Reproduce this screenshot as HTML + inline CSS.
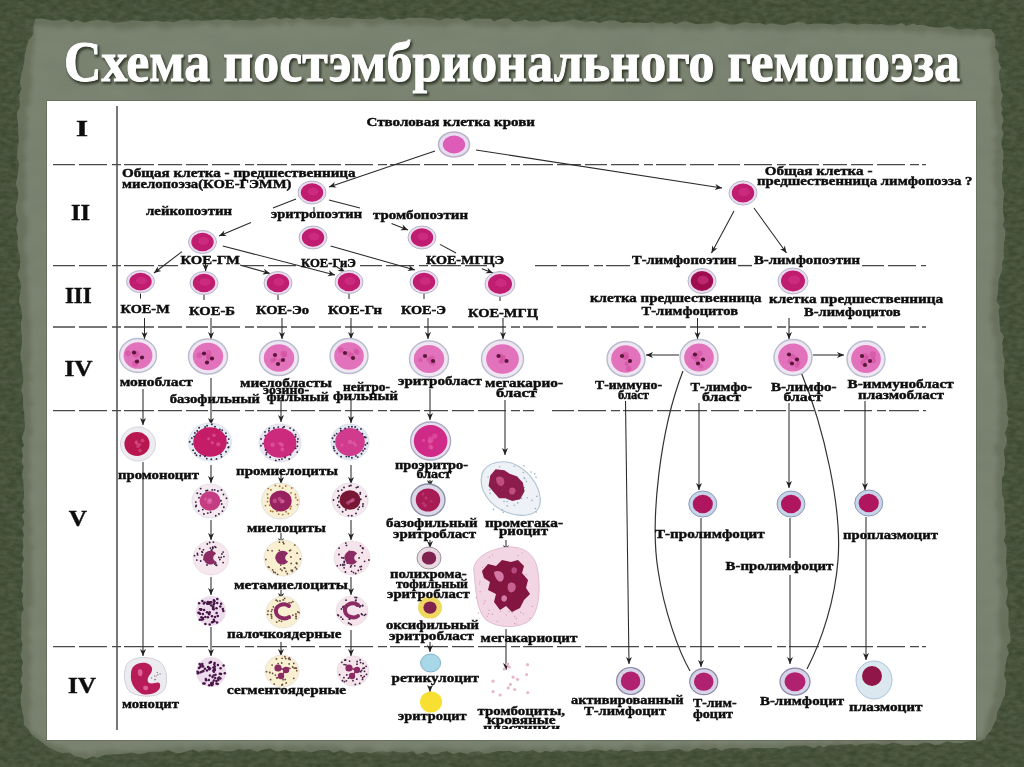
<!DOCTYPE html><html><head><meta charset="utf-8"><style>html,body{margin:0;padding:0;width:1024px;height:767px;overflow:hidden;background:#4f5a44}svg{display:block}</style></head><body>
<svg width="1024" height="767" viewBox="0 0 1024 767">
<defs>
<filter id="tex" x="0" y="0" width="100%" height="100%" color-interpolation-filters="sRGB"><feTurbulence type="fractalNoise" baseFrequency="0.12 0.25" numOctaves="3" seed="3"/><feColorMatrix values="0 0 0 0 0.2  0 0 0 0 0.25  0 0 0 0 0.15  0 0 0 1.2 -0.3"/><feComposite in2="SourceGraphic" operator="in"/></filter>
<filter id="sh" x="-5%" y="-20%" width="110%" height="140%"><feGaussianBlur stdDeviation="1.3"/></filter>
<filter id="bl"><feGaussianBlur stdDeviation="0.35"/></filter>
<filter id="tex2" x="0" y="0" width="100%" height="100%" color-interpolation-filters="sRGB"><feTurbulence type="fractalNoise" baseFrequency="0.02 0.05" numOctaves="3" seed="9"/><feColorMatrix values="0 0 0 0 0.3  0 0 0 0 0.34  0 0 0 0 0.28  0 0 0 0.16 -0.02"/><feComposite in2="SourceGraphic" operator="in"/></filter>
<filter id="bl3"><feGaussianBlur stdDeviation="2"/></filter>
<filter id="bl2"><feGaussianBlur stdDeviation="0.6"/></filter>
<clipPath id="clipb"><rect x="0" y="0" width="1024" height="729"/></clipPath>
</defs>
<rect width="1024" height="767" fill="#505b45"/>
<rect width="1024" height="767" fill="#000" filter="url(#tex)"/>
<path d="M35.4,18.7 L42.5,18.6 L48.1,19.8 L52.4,20.5 L58.3,20.3 L64.5,19.2 L71.7,22.0 L76.6,20.0 L84.5,22.8 L90.3,20.9 L97.7,19.8 L103.3,20.8 L106.7,20.3 L113.3,23.0 L118.9,22.3 L126.5,21.4 L132.2,20.2 L136.4,20.5 L144.6,21.2 L149.3,21.6 L155.8,20.5 L163.1,21.8 L167.1,21.2 L174.1,22.2 L180.8,19.9 L187.7,19.2 L191.7,21.3 L196.7,20.2 L202.3,20.7 L211.0,20.3 L217.4,19.2 L222.7,20.1 L228.3,19.4 L235.2,21.1 L239.9,19.9 L244.4,19.9 L252.5,20.8 L259.2,18.2 L263.6,19.4 L268.3,18.5 L274.8,17.2 L280.4,19.4 L286.7,17.4 L293.6,19.5 L298.5,17.8 L306.3,19.4 L313.4,19.4 L317.5,17.9 L323.9,19.6 L332.2,17.0 L335.5,17.4 L341.8,18.3 L349.2,17.6 L353.2,18.2 L360.6,18.8 L368.9,19.3 L373.4,19.1 L380.1,17.1 L387.0,19.8 L393.0,19.9 L397.4,18.5 L402.5,19.4 L408.4,17.4 L415.1,17.8 L421.6,17.5 L426.5,17.9 L433.0,18.7 L438.8,20.6 L447.1,18.1 L451.9,18.8 L458.4,18.1 L466.3,21.3 L471.0,19.5 L475.7,18.2 L482.8,18.8 L490.6,18.5 L493.8,21.4 L501.8,18.6 L507.9,18.2 L514.0,21.7 L521.3,20.7 L525.1,19.6 L530.8,21.2 L538.1,21.3 L543.4,19.4 L551.1,22.2 L557.3,21.7 L563.1,21.6 L567.0,20.9 L573.5,19.2 L578.3,20.2 L585.1,21.8 L593.6,21.0 L599.6,23.1 L605.6,20.9 L609.0,20.5 L614.9,20.5 L622.4,23.1 L629.2,21.7 L634.6,23.0 L638.5,22.6 L647.5,23.1 L652.9,22.1 L656.8,23.3 L663.4,23.5 L671.7,22.1 L675.6,24.2 L682.8,21.5 L686.7,21.5 L695.5,24.0 L698.7,24.2 L707.8,23.6 L711.6,23.2 L716.9,21.3 L725.9,23.7 L730.4,24.7 L736.1,24.5 L743.6,22.2 L747.6,22.5 L753.6,23.6 L759.7,23.0 L765.3,24.8 L772.2,23.2 L779.1,24.8 L784.6,24.9 L790.9,23.6 L797.1,21.8 L802.8,22.4 L807.3,24.6 L814.0,23.5 L822.0,23.8 L826.6,23.7 L833.5,24.7 L838.0,23.9 L844.5,22.9 L852.5,23.8 L857.8,24.7 L865.1,23.6 L870.1,23.9 L875.8,24.6 L881.6,24.0 L887.8,25.5 L894.7,25.3 L901.6,23.1 L906.3,26.0 L913.5,23.5 L917.0,25.0 L923.0,24.7 L929.1,26.6 L937.8,27.8 L941.7,27.6 L949.6,25.9 L956.6,29.3 L960.3,29.6 L967.1,28.4 L975.4,30.0 L978.5,29.0 L985.9,29.0 L990.9,29.3 L994.4,34.3 L995.4,41.8 L995.1,47.4 L998.8,54.0 L998.4,61.7 L1001.3,67.7 L999.2,71.2 L999.2,79.0 L1000.4,82.7 L1001.2,91.5 L1002.9,95.1 L1000.8,103.5 L1002.7,108.7 L1001.2,112.4 L1003.7,119.7 L1001.5,127.8 L1003.6,133.5 L1001.6,139.9 L1001.6,146.1 L1003.1,150.4 L1003.5,158.7 L1002.5,162.0 L1003.5,168.6 L1002.0,174.5 L1001.9,180.8 L1002.8,187.4 L1004.5,193.5 L1003.6,199.3 L1003.1,204.9 L1002.8,211.1 L1004.6,219.2 L1002.7,225.1 L1005.4,230.0 L1005.1,237.4 L1003.9,245.0 L1003.6,250.0 L1003.9,258.0 L1001.9,263.7 L1002.5,269.2 L1000.7,274.5 L998.6,279.9 L998.0,288.4 L997.9,292.5 L996.5,301.2 L1000.0,306.6 L998.6,311.1 L999.4,317.9 L999.6,323.8 L1000.6,331.7 L1003.9,336.2 L1002.0,343.7 L1002.9,347.5 L1002.5,353.6 L1004.9,360.0 L1004.1,366.0 L1003.6,371.2 L1004.1,377.6 L1004.2,382.3 L1005.3,389.0 L1006.5,396.1 L1007.3,402.6 L1007.4,409.4 L1006.4,413.4 L1008.7,418.7 L1007.4,426.5 L1004.6,433.2 L1007.2,438.5 L1006.2,445.1 L1003.7,450.1 L1004.6,457.2 L1005.3,463.2 L1004.1,469.4 L1004.1,474.7 L1002.0,478.3 L1001.9,485.7 L1002.0,493.5 L1003.9,498.9 L1004.4,505.3 L1004.1,509.0 L1005.5,517.8 L1004.6,523.2 L1005.4,527.7 L1005.9,534.5 L1003.8,540.7 L1006.4,546.6 L1006.6,555.6 L1006.0,559.6 L1006.2,566.8 L1007.4,572.7 L1007.2,576.9 L1005.7,583.7 L1008.0,590.1 L1007.6,595.2 L1006.0,602.2 L1008.5,609.9 L1008.7,614.6 L1008.4,621.4 L1008.4,626.3 L1010.2,632.8 L1010.7,641.6 L1006.7,645.9 L1009.0,653.7 L1007.0,657.2 L1005.6,665.6 L1005.0,670.3 L1004.1,676.1 L1006.4,680.7 L1005.4,688.0 L1005.0,694.7 L1002.0,701.4 L1001.0,704.5 L997.2,712.5 L996.8,718.0 L993.7,724.4 L990.7,731.2 L985.9,735.9 L985.2,738.6 L979.5,741.5 L973.4,740.7 L965.5,741.9 L961.8,743.3 L953.4,742.9 L947.0,741.6 L940.2,744.5 L934.8,745.0 L928.5,742.7 L923.4,742.6 L916.8,745.4 L912.5,745.0 L905.5,745.5 L900.5,744.3 L893.6,742.6 L887.5,744.2 L881.5,745.0 L873.7,742.9 L869.9,743.3 L862.1,744.2 L855.4,745.7 L851.7,744.1 L844.3,744.5 L837.7,745.1 L830.1,744.5 L823.9,747.5 L818.7,745.2 L814.0,748.3 L806.1,745.5 L798.9,745.5 L793.2,745.8 L786.6,746.6 L781.5,749.1 L775.9,747.7 L768.4,748.3 L762.1,747.9 L754.7,747.9 L751.7,747.7 L744.0,749.5 L739.3,748.1 L731.2,748.3 L725.6,749.1 L721.6,750.7 L715.3,747.8 L706.3,750.3 L703.4,749.5 L696.3,747.9 L689.6,751.3 L685.2,751.2 L679.7,749.1 L670.6,748.8 L666.1,750.8 L661.6,751.0 L654.5,751.2 L647.8,750.5 L640.3,751.5 L635.0,752.0 L630.5,749.9 L622.7,749.8 L618.5,751.5 L610.6,749.3 L606.1,751.2 L599.6,750.0 L594.3,749.3 L587.2,751.0 L583.5,751.7 L577.1,751.2 L568.7,750.4 L565.3,752.1 L556.9,749.7 L551.5,752.1 L545.2,750.7 L540.0,753.1 L532.3,750.0 L526.7,751.4 L521.9,750.7 L516.2,752.7 L509.1,750.8 L504.7,751.3 L498.1,751.1 L489.9,753.0 L484.1,753.8 L478.8,751.1 L471.7,752.0 L467.3,753.9 L459.3,752.0 L453.5,754.2 L447.2,750.9 L440.8,752.2 L437.8,754.0 L431.1,754.5 L425.8,752.1 L417.0,754.4 L413.0,751.2 L406.7,752.5 L399.5,752.4 L392.8,751.1 L387.2,752.2 L383.6,751.3 L377.7,751.5 L369.5,753.6 L365.2,752.0 L356.4,752.1 L351.5,753.6 L344.9,751.4 L341.4,750.1 L333.7,752.8 L329.0,749.9 L320.3,749.9 L317.5,750.4 L310.9,752.6 L303.4,750.3 L299.6,751.4 L291.1,751.6 L285.3,749.9 L278.2,751.5 L275.5,751.0 L269.6,748.6 L261.0,750.2 L257.6,751.8 L249.6,749.1 L243.5,750.1 L239.0,749.1 L232.3,751.2 L226.2,751.5 L219.1,750.0 L211.9,750.3 L207.3,749.4 L198.9,751.9 L192.8,749.6 L185.8,751.4 L180.6,753.1 L176.4,753.3 L167.9,750.1 L161.0,751.7 L157.0,751.7 L149.0,751.7 L144.1,753.2 L138.2,754.3 L131.5,752.3 L125.8,753.4 L118.4,754.3 L112.7,754.2 L104.5,754.9 L97.8,757.7 L93.0,756.3 L86.0,759.2 L80.0,757.0 L75.1,756.6 L69.8,752.6 L61.9,753.1 L57.2,751.5 L48.3,747.3 L42.0,742.5 L38.4,739.6 L31.5,734.5 L28.7,729.2 L23.8,724.7 L23.6,716.6 L22.3,712.3 L21.0,705.3 L20.7,698.6 L21.1,693.9 L22.5,686.3 L20.2,680.6 L22.6,674.0 L21.3,667.9 L23.1,663.0 L20.4,655.3 L21.6,650.8 L22.5,643.0 L20.8,639.1 L21.7,631.5 L21.3,627.8 L21.3,620.2 L21.6,613.5 L23.6,609.5 L22.0,600.4 L23.4,594.3 L21.0,590.7 L22.6,584.2 L22.7,578.3 L23.1,569.6 L21.6,564.8 L24.0,559.9 L22.2,552.7 L23.4,546.2 L22.7,539.2 L23.9,535.5 L22.2,528.0 L24.5,523.7 L22.1,514.7 L24.6,511.7 L22.7,502.4 L24.1,497.6 L23.9,492.4 L23.4,484.8 L23.0,479.0 L21.9,475.2 L23.6,466.9 L21.6,461.6 L22.9,455.6 L21.6,449.1 L24.0,445.4 L21.7,438.2 L24.5,430.3 L25.0,424.6 L24.4,420.2 L24.3,413.3 L23.3,408.3 L23.1,402.6 L23.0,395.8 L21.3,390.4 L22.8,383.0 L23.5,379.0 L22.2,370.8 L22.1,364.6 L20.7,359.8 L20.3,353.8 L21.6,346.3 L21.9,340.5 L22.0,337.0 L21.0,328.4 L20.8,323.6 L22.2,316.7 L21.7,313.8 L21.0,307.1 L18.9,301.7 L19.8,295.4 L21.1,286.3 L20.5,282.8 L17.7,274.5 L20.0,267.5 L20.3,261.7 L19.8,255.0 L18.5,251.5 L17.3,242.9 L18.1,236.8 L16.3,230.1 L16.5,226.6 L18.2,220.2 L16.2,213.5 L15.8,206.4 L17.5,199.5 L18.4,194.0 L17.4,189.1 L15.8,183.3 L17.8,175.0 L18.5,168.4 L19.2,163.4 L17.0,157.9 L17.4,149.6 L18.6,143.0 L18.9,137.6 L18.3,134.1 L18.2,126.7 L17.3,118.2 L16.9,112.7 L19.6,107.8 L19.8,103.4 L19.1,95.0 L21.6,88.3 L19.8,83.5 L20.8,77.5 L21.8,72.3 L23.7,64.9 L24.4,59.9 L24.7,54.9 L27.1,45.4 L28.5,40.5 L33.3,34.3 L33.6,25.8 Z" fill="#6b735f"/>
<path d="M33.6,26.7 L42.3,25.4 L48.7,26.0 L56.2,27.6 L58.7,28.6 L63.7,26.9 L71.5,25.5 L75.8,28.4 L81.6,27.4 L92.2,25.5 L94.5,28.0 L102.0,28.3 L109.6,26.1 L113.0,26.9 L117.7,29.9 L127.4,28.9 L129.5,29.5 L139.2,27.4 L145.2,27.2 L148.6,25.4 L154.7,24.9 L161.2,28.3 L169.0,28.7 L175.1,25.6 L180.3,26.3 L187.4,26.6 L190.8,27.1 L200.3,24.9 L205.9,23.7 L208.8,24.7 L217.2,28.1 L223.2,24.9 L229.9,24.7 L232.7,27.5 L240.7,26.3 L246.8,27.6 L251.8,26.8 L259.0,26.7 L263.7,25.9 L270.4,23.7 L274.6,25.1 L279.9,26.5 L286.2,21.9 L292.0,26.3 L299.2,22.2 L303.8,21.8 L313.2,24.8 L319.3,25.4 L322.3,24.7 L329.9,25.9 L338.3,26.3 L340.6,26.2 L351.0,26.7 L353.0,23.0 L359.2,22.2 L369.0,26.2 L374.0,26.3 L380.1,23.7 L383.6,22.8 L393.0,23.4 L396.9,24.5 L401.5,23.7 L408.9,26.1 L415.5,24.2 L424.5,25.1 L430.1,25.8 L432.1,24.8 L440.2,26.6 L445.9,26.4 L453.0,24.0 L460.7,23.4 L466.6,23.9 L468.6,24.1 L478.5,28.0 L480.9,25.6 L489.4,27.2 L494.0,25.8 L500.9,27.5 L506.6,28.1 L512.8,24.5 L521.0,26.0 L524.0,26.8 L529.9,27.6 L539.0,27.7 L544.6,25.7 L549.5,26.0 L558.0,24.5 L563.9,24.3 L566.5,25.6 L576.0,26.9 L579.4,28.9 L584.7,26.9 L592.2,28.5 L599.3,28.0 L603.2,26.5 L608.3,29.2 L616.8,28.8 L620.3,27.4 L629.4,28.2 L632.1,27.7 L641.9,26.7 L644.5,27.1 L653.0,29.9 L656.3,26.6 L662.7,27.5 L670.1,26.8 L675.1,27.0 L684.4,29.8 L686.0,31.1 L692.0,28.3 L702.4,30.5 L707.2,28.7 L710.6,29.8 L716.2,27.6 L723.7,26.8 L729.8,30.6 L737.3,29.2 L743.1,29.0 L746.7,29.8 L754.1,30.5 L762.6,29.0 L767.0,30.6 L772.3,28.0 L779.9,31.3 L786.2,30.4 L792.7,30.4 L797.7,29.3 L802.1,30.2 L807.1,29.1 L816.6,30.6 L821.9,28.4 L826.9,29.4 L833.9,29.2 L840.3,31.8 L843.9,30.5 L852.9,29.2 L857.5,32.2 L861.3,30.0 L868.0,31.3 L878.0,30.0 L879.8,30.3 L888.1,31.0 L894.0,30.7 L901.6,30.1 L905.7,32.6 L910.8,31.7 L917.9,32.5 L922.6,34.0 L929.9,29.8 L935.7,31.9 L940.5,32.4 L948.7,34.2 L954.5,32.4 L960.0,35.2 L969.7,34.5 L972.2,36.3 L979.2,33.8 L984.0,37.0 L993.5,36.7 L991.8,42.3 L990.6,50.3 L991.3,54.7 L993.6,61.6 L991.8,65.0 L992.5,70.1 L994.3,77.3 L994.7,82.8 L992.6,88.8 L993.1,94.4 L991.3,103.1 L993.0,106.7 L993.4,113.9 L994.3,120.7 L995.8,125.3 L997.2,134.0 L992.9,140.0 L997.2,146.0 L993.4,152.4 L995.9,154.5 L992.8,165.4 L996.1,168.1 L993.4,173.7 L994.1,183.1 L994.7,186.2 L997.5,195.6 L993.9,202.2 L996.2,207.9 L996.5,214.6 L997.2,220.6 L994.2,226.0 L996.0,232.4 L995.6,239.3 L996.2,242.4 L994.6,248.0 L996.0,253.8 L995.1,260.5 L994.5,268.5 L993.9,276.6 L990.5,282.7 L992.1,287.6 L992.3,295.2 L990.1,299.3 L992.3,303.9 L991.4,312.7 L989.0,318.5 L993.0,326.2 L992.0,332.4 L993.6,335.9 L996.2,339.7 L996.0,348.6 L994.8,355.8 L995.6,359.9 L997.1,367.4 L995.8,371.9 L997.1,378.8 L999.4,383.7 L999.6,390.5 L998.3,396.1 L998.5,405.9 L999.5,411.2 L998.2,415.1 L997.6,422.4 L998.9,429.4 L995.5,435.1 L999.3,440.2 L994.7,445.0 L994.1,450.4 L998.3,458.5 L996.6,465.4 L997.4,470.6 L995.6,476.6 L996.2,482.6 L996.4,486.9 L996.5,494.3 L997.2,498.6 L994.6,504.5 L997.8,515.0 L997.4,518.4 L998.5,526.7 L997.4,530.2 L996.3,537.1 L996.6,543.3 L998.5,552.0 L995.8,556.3 L995.9,560.2 L1000.0,568.7 L1000.8,574.2 L996.5,580.1 L999.6,589.0 L1001.8,592.8 L999.2,597.1 L1000.6,603.8 L998.3,609.0 L997.8,618.5 L998.6,626.0 L998.7,631.7 L999.1,633.6 L1001.5,640.7 L1001.0,646.4 L997.0,655.4 L999.7,661.8 L999.1,663.9 L998.0,673.0 L996.6,680.2 L995.0,686.3 L996.7,687.6 L992.6,696.8 L994.6,700.1 L990.1,709.6 L987.3,716.6 L986.9,718.8 L984.8,728.9 L983.7,736.9 L976.2,738.2 L971.3,738.2 L966.6,737.8 L959.4,740.4 L956.1,740.5 L948.1,738.2 L939.5,741.7 L936.6,741.1 L928.6,740.1 L925.7,741.3 L917.7,738.8 L910.8,741.8 L904.4,740.9 L899.4,742.1 L894.3,739.1 L884.2,739.1 L880.2,740.9 L876.0,742.5 L866.0,742.3 L863.8,742.6 L856.5,739.8 L851.8,742.5 L844.7,743.3 L836.7,739.4 L831.5,743.2 L823.5,743.3 L820.9,740.9 L813.0,743.4 L806.1,741.3 L798.8,744.3 L795.2,743.0 L785.4,745.0 L782.6,742.4 L775.4,746.0 L770.7,744.4 L762.4,744.9 L754.7,743.2 L748.4,746.0 L743.3,745.4 L737.5,745.2 L730.2,743.0 L728.5,744.7 L718.0,746.1 L715.4,743.8 L708.5,744.8 L702.1,743.2 L693.7,748.2 L691.8,745.7 L684.3,744.7 L679.4,745.6 L674.2,747.4 L667.6,748.4 L658.8,743.9 L652.5,744.7 L645.9,744.1 L642.3,748.3 L635.8,748.8 L632.0,744.4 L624.5,746.2 L616.1,749.1 L610.8,747.2 L606.7,749.2 L600.8,746.5 L593.7,745.4 L590.2,749.6 L580.4,744.9 L574.5,746.5 L571.7,749.3 L565.3,745.1 L559.0,748.5 L552.2,749.9 L543.2,745.8 L540.7,749.8 L534.2,746.7 L527.7,749.0 L519.2,746.9 L513.9,746.0 L509.0,746.3 L501.7,746.2 L497.9,745.6 L492.0,746.6 L482.5,750.3 L477.4,750.4 L474.6,750.2 L464.9,748.1 L458.6,750.5 L456.3,749.1 L448.2,747.7 L444.0,748.5 L437.0,746.9 L428.9,746.5 L425.3,749.0 L416.4,750.7 L411.0,748.4 L404.3,747.8 L401.7,748.2 L392.3,748.8 L387.1,750.8 L380.1,751.0 L373.8,750.5 L370.8,747.0 L363.9,747.2 L356.8,746.7 L351.3,750.5 L348.5,750.0 L338.0,746.7 L336.0,745.5 L329.1,746.5 L324.4,745.0 L317.5,746.5 L308.2,744.7 L305.7,747.2 L296.4,746.6 L294.1,745.4 L286.4,744.9 L278.4,748.0 L275.1,745.0 L265.9,744.3 L262.5,746.2 L254.9,744.7 L250.6,747.0 L245.3,746.5 L236.0,744.1 L232.4,745.9 L226.1,744.3 L220.3,745.8 L214.2,748.6 L206.2,744.5 L202.1,746.9 L195.6,746.0 L185.9,748.9 L180.6,745.7 L174.4,748.0 L166.3,747.7 L162.2,747.8 L154.4,748.9 L151.6,749.8 L142.7,749.6 L136.7,750.3 L128.7,751.5 L126.8,750.2 L118.2,750.9 L112.0,748.9 L107.8,750.4 L97.5,750.4 L91.5,754.5 L84.0,751.4 L81.0,752.5 L71.6,752.5 L68.4,750.1 L63.0,746.0 L57.8,747.1 L47.7,742.1 L43.3,739.7 L35.6,733.4 L29.5,729.2 L30.5,724.3 L28.2,714.4 L31.2,706.2 L31.6,703.9 L29.4,695.2 L31.7,689.6 L29.5,685.6 L31.4,676.4 L28.7,670.3 L29.7,667.4 L31.5,660.9 L31.6,654.5 L27.8,646.7 L32.3,642.7 L28.7,634.0 L30.7,627.6 L30.2,620.0 L29.7,616.0 L27.8,608.0 L32.7,605.1 L32.6,598.2 L32.2,593.3 L32.7,582.9 L31.6,577.9 L32.0,571.8 L31.4,568.9 L32.0,559.4 L31.6,554.1 L33.9,547.2 L30.9,542.9 L30.1,536.5 L34.1,530.1 L30.4,523.8 L31.6,516.2 L29.3,510.2 L30.0,505.5 L29.7,498.7 L28.5,494.2 L32.1,488.5 L30.6,482.8 L28.5,477.1 L30.0,470.2 L31.0,463.8 L29.7,456.7 L29.4,452.1 L30.4,446.4 L28.8,439.3 L33.2,432.7 L31.9,428.0 L30.7,424.4 L31.0,417.4 L30.0,407.6 L33.4,403.2 L29.1,396.7 L30.7,392.2 L28.8,383.4 L32.8,379.7 L28.5,371.4 L29.3,366.9 L30.4,361.7 L31.2,354.1 L30.6,349.2 L30.5,341.9 L30.4,337.0 L30.9,328.1 L30.5,321.5 L29.7,318.4 L28.2,314.3 L28.4,305.6 L29.2,301.6 L28.2,292.9 L27.2,287.0 L28.4,280.0 L26.5,275.0 L26.3,267.6 L28.1,264.0 L26.5,255.7 L24.7,248.8 L24.3,243.9 L26.3,235.2 L27.9,230.1 L27.3,226.4 L27.7,217.0 L24.8,214.3 L22.6,203.7 L25.4,199.8 L27.3,195.1 L25.4,190.0 L25.4,181.5 L26.3,174.7 L24.8,169.6 L24.8,165.2 L26.5,156.9 L23.7,150.0 L25.3,144.8 L26.2,140.2 L28.2,132.1 L25.7,126.6 L29.1,119.2 L27.4,115.6 L26.2,107.1 L30.8,103.6 L29.1,94.1 L31.6,90.9 L31.8,86.5 L32.7,77.6 L29.7,70.9 L32.1,66.0 L31.1,57.7 L34.0,53.2 L33.3,48.5 L35.3,37.0 L34.9,34.1 Z" fill="#7d8573" filter="url(#bl3)"/>
<rect width="1024" height="767" fill="#000" filter="url(#tex2)"/>
<text x="65.5" y="83" font-family="Liberation Serif" font-weight="bold" font-size="57" textLength="896" lengthAdjust="spacingAndGlyphs" fill="#2a3024" stroke="#2a3024" stroke-width="2" opacity="0.85" filter="url(#sh)">Схема постэмбрионального гемопоэза</text>
<text x="64" y="81" font-family="Liberation Serif" font-weight="bold" font-size="57" textLength="896" lengthAdjust="spacingAndGlyphs" fill="#ffffff" stroke="#ffffff" stroke-width="1">Схема постэмбрионального гемопоэза</text>
<rect x="46.5" y="100.5" width="930" height="640" fill="#4a5240" opacity="0.7"/>
<rect x="47" y="101" width="929" height="639" fill="#ffffff"/>
<g filter="url(#bl)">
<line x1="117" y1="106" x2="117" y2="730" stroke="#555" stroke-width="1.6"/>
<line x1="53" y1="164.6" x2="926" y2="164.6" stroke="#4a4a4a" stroke-width="1.4" stroke-dasharray="22 4 28 5 9 3 30 4 24 4"/>
<line x1="53" y1="265.6" x2="178" y2="265.6" stroke="#4a4a4a" stroke-width="1.4" stroke-dasharray="22 4 28 5 9 3 30 4 24 4"/>
<line x1="242" y1="265.6" x2="298" y2="265.6" stroke="#4a4a4a" stroke-width="1.4" stroke-dasharray="22 4 28 5 9 3 30 4 24 4"/>
<line x1="360" y1="265.6" x2="487" y2="265.6" stroke="#4a4a4a" stroke-width="1.4" stroke-dasharray="22 4 28 5 9 3 30 4 24 4"/>
<line x1="535" y1="265.6" x2="630" y2="265.6" stroke="#4a4a4a" stroke-width="1.4" stroke-dasharray="22 4 28 5 9 3 30 4 24 4"/>
<line x1="738" y1="265.6" x2="752" y2="265.6" stroke="#4a4a4a" stroke-width="1.4" stroke-dasharray="22 4 28 5 9 3 30 4 24 4"/>
<line x1="862" y1="265.6" x2="926" y2="265.6" stroke="#4a4a4a" stroke-width="1.4" stroke-dasharray="22 4 28 5 9 3 30 4 24 4"/>
<line x1="53" y1="327" x2="926" y2="327" stroke="#4a4a4a" stroke-width="1.4" stroke-dasharray="22 4 28 5 9 3 30 4 24 4"/>
<line x1="53" y1="410.6" x2="534" y2="410.6" stroke="#4a4a4a" stroke-width="1.4" stroke-dasharray="22 4 28 5 9 3 30 4 24 4"/>
<line x1="552" y1="410.6" x2="926" y2="410.6" stroke="#4a4a4a" stroke-width="1.4" stroke-dasharray="22 4 28 5 9 3 30 4 24 4"/>
<line x1="53" y1="646.6" x2="926" y2="646.6" stroke="#4a4a4a" stroke-width="1.4" stroke-dasharray="22 4 28 5 9 3 30 4 24 4"/>
<path d="M683,371 C660,430 650,520 658,570 C664,610 678,650 690,671" fill="none" stroke="#333" stroke-width="1.2"/>
<path d="M801,372 C825,430 842,510 838,560 C835,600 822,640 807,669" fill="none" stroke="#333" stroke-width="1.2"/>
<path d="M435.0,151.0 L329.0,187.0" fill="none" stroke="#2a2a2a" stroke-width="1.05"/>
<path d="M329.0,187.0 L334.7,181.9 L333.7,185.4 L336.6,187.6 Z" fill="#222"/>
<path d="M476.0,150.0 L722.0,188.0" fill="none" stroke="#2a2a2a" stroke-width="1.05"/>
<path d="M722.0,188.0 L714.6,189.9 L717.1,187.2 L715.5,184.0 Z" fill="#222"/>
<path d="M296.0,199.0 L273.0,208.0" fill="none" stroke="#2a2a2a" stroke-width="1.05"/>
<path d="M251.0,222.5 L219.0,236.0" fill="none" stroke="#2a2a2a" stroke-width="1.05"/>
<path d="M219.0,236.0 L224.3,230.5 L223.6,234.1 L226.6,236.0 Z" fill="#222"/>
<path d="M314.0,207.0 L314.0,214.0" fill="none" stroke="#2a2a2a" stroke-width="1.05"/>
<path d="M329.0,200.0 L360.0,208.0" fill="none" stroke="#2a2a2a" stroke-width="1.05"/>
<path d="M391.5,223.4 L408.0,230.0" fill="none" stroke="#2a2a2a" stroke-width="1.05"/>
<path d="M408.0,230.0 L400.4,230.2 L403.4,228.1 L402.6,224.6 Z" fill="#222"/>
<path d="M182.0,251.6 L154.0,273.0" fill="none" stroke="#2a2a2a" stroke-width="1.05"/>
<path d="M154.0,273.0 L157.7,266.4 L158.0,270.0 L161.4,271.1 Z" fill="#222"/>
<path d="M205.6,264.0 L205.6,271.0" fill="none" stroke="#2a2a2a" stroke-width="1.05"/>
<path d="M205.6,271.0 L202.6,264.0 L205.6,266.0 L208.6,264.0 Z" fill="#222"/>
<path d="M240.0,265.0 L270.0,273.5" fill="none" stroke="#2a2a2a" stroke-width="1.05"/>
<path d="M270.0,273.5 L262.4,274.5 L265.2,272.1 L264.1,268.7 Z" fill="#222"/>
<path d="M222.8,246.0 L335.0,275.0" fill="none" stroke="#2a2a2a" stroke-width="1.05"/>
<path d="M335.0,275.0 L327.5,276.2 L330.2,273.7 L329.0,270.3 Z" fill="#222"/>
<path d="M330.6,246.0 L415.0,270.0" fill="none" stroke="#2a2a2a" stroke-width="1.05"/>
<path d="M415.0,270.0 L407.4,271.0 L410.2,268.6 L409.1,265.2 Z" fill="#222"/>
<path d="M440.0,244.4 L456.0,253.0" fill="none" stroke="#2a2a2a" stroke-width="1.05"/>
<path d="M482.0,268.8 L493.0,273.0" fill="none" stroke="#2a2a2a" stroke-width="1.05"/>
<path d="M493.0,273.0 L485.4,273.3 L488.3,271.2 L487.6,267.7 Z" fill="#222"/>
<path d="M337.0,267.0 L345.0,272.0" fill="none" stroke="#2a2a2a" stroke-width="1.05"/>
<path d="M345.0,272.0 L337.5,270.8 L340.8,269.4 L340.7,265.7 Z" fill="#222"/>
<path d="M734.0,211.0 L711.5,253.0" fill="none" stroke="#2a2a2a" stroke-width="1.05"/>
<path d="M711.5,253.0 L712.2,245.4 L713.9,248.6 L717.4,248.2 Z" fill="#222"/>
<path d="M754.0,208.0 L786.5,253.0" fill="none" stroke="#2a2a2a" stroke-width="1.05"/>
<path d="M786.5,253.0 L780.0,249.1 L783.6,248.9 L784.8,245.6 Z" fill="#222"/>
<path d="M140.5,293.6 L140.5,298.6" fill="none" stroke="#2a2a2a" stroke-width="1.05"/>
<path d="M204.0,295.0 L204.0,300.0" fill="none" stroke="#2a2a2a" stroke-width="1.05"/>
<path d="M278.0,295.0 L278.0,300.0" fill="none" stroke="#2a2a2a" stroke-width="1.05"/>
<path d="M349.0,294.0 L349.0,299.0" fill="none" stroke="#2a2a2a" stroke-width="1.05"/>
<path d="M424.0,294.0 L424.0,299.0" fill="none" stroke="#2a2a2a" stroke-width="1.05"/>
<path d="M500.0,296.0 L500.0,301.0" fill="none" stroke="#2a2a2a" stroke-width="1.05"/>
<path d="M144.5,318.0 L144.5,339.0" fill="none" stroke="#2a2a2a" stroke-width="1.05"/>
<path d="M144.5,339.0 L141.5,332.0 L144.5,334.0 L147.5,332.0 Z" fill="#222"/>
<path d="M211.0,318.0 L211.0,339.0" fill="none" stroke="#2a2a2a" stroke-width="1.05"/>
<path d="M211.0,339.0 L208.0,332.0 L211.0,334.0 L214.0,332.0 Z" fill="#222"/>
<path d="M282.0,318.0 L282.0,339.0" fill="none" stroke="#2a2a2a" stroke-width="1.05"/>
<path d="M282.0,339.0 L279.0,332.0 L282.0,334.0 L285.0,332.0 Z" fill="#222"/>
<path d="M351.0,318.0 L351.0,339.0" fill="none" stroke="#2a2a2a" stroke-width="1.05"/>
<path d="M351.0,339.0 L348.0,332.0 L351.0,334.0 L354.0,332.0 Z" fill="#222"/>
<path d="M428.0,318.0 L428.0,339.0" fill="none" stroke="#2a2a2a" stroke-width="1.05"/>
<path d="M428.0,339.0 L425.0,332.0 L428.0,334.0 L431.0,332.0 Z" fill="#222"/>
<path d="M503.0,318.0 L503.0,339.0" fill="none" stroke="#2a2a2a" stroke-width="1.05"/>
<path d="M503.0,339.0 L500.0,332.0 L503.0,334.0 L506.0,332.0 Z" fill="#222"/>
<path d="M697.5,318.0 L697.5,339.0" fill="none" stroke="#2a2a2a" stroke-width="1.05"/>
<path d="M697.5,339.0 L694.5,332.0 L697.5,334.0 L700.5,332.0 Z" fill="#222"/>
<path d="M789.0,318.0 L789.0,339.0" fill="none" stroke="#2a2a2a" stroke-width="1.05"/>
<path d="M789.0,339.0 L786.0,332.0 L789.0,334.0 L792.0,332.0 Z" fill="#222"/>
<path d="M143.0,389.0 L143.0,425.0" fill="none" stroke="#2a2a2a" stroke-width="1.05"/>
<path d="M143.0,425.0 L140.0,418.0 L143.0,420.0 L146.0,418.0 Z" fill="#222"/>
<path d="M143.0,462.0 L143.0,656.0" fill="none" stroke="#2a2a2a" stroke-width="1.05"/>
<path d="M143.0,656.0 L140.0,649.0 L143.0,651.0 L146.0,649.0 Z" fill="#222"/>
<path d="M211.0,378.0 L211.0,425.0" fill="none" stroke="#2a2a2a" stroke-width="1.05"/>
<path d="M211.0,425.0 L208.0,418.0 L211.0,420.0 L214.0,418.0 Z" fill="#222"/>
<path d="M281.0,400.0 L281.0,422.0" fill="none" stroke="#2a2a2a" stroke-width="1.05"/>
<path d="M281.0,422.0 L278.0,415.0 L281.0,417.0 L284.0,415.0 Z" fill="#222"/>
<path d="M351.0,400.0 L351.0,423.0" fill="none" stroke="#2a2a2a" stroke-width="1.05"/>
<path d="M351.0,423.0 L348.0,416.0 L351.0,418.0 L354.0,416.0 Z" fill="#222"/>
<path d="M430.0,389.0 L430.0,420.0" fill="none" stroke="#2a2a2a" stroke-width="1.05"/>
<path d="M430.0,420.0 L427.0,413.0 L430.0,415.0 L433.0,413.0 Z" fill="#222"/>
<path d="M505.0,400.0 L505.0,455.0" fill="none" stroke="#2a2a2a" stroke-width="1.05"/>
<path d="M505.0,455.0 L502.0,448.0 L505.0,450.0 L508.0,448.0 Z" fill="#222"/>
<path d="M625.5,401.0 L629.0,664.0" fill="none" stroke="#2a2a2a" stroke-width="1.05"/>
<path d="M629.0,664.0 L625.9,657.0 L628.9,659.0 L631.9,657.0 Z" fill="#222"/>
<path d="M790.0,518.0 L790.0,558.0" fill="none" stroke="#2a2a2a" stroke-width="1.05"/>
<path d="M699.0,403.0 L699.0,490.0" fill="none" stroke="#2a2a2a" stroke-width="1.05"/>
<path d="M699.0,490.0 L696.0,483.0 L699.0,485.0 L702.0,483.0 Z" fill="#222"/>
<path d="M789.0,403.0 L789.0,488.0" fill="none" stroke="#2a2a2a" stroke-width="1.05"/>
<path d="M789.0,488.0 L786.0,481.0 L789.0,483.0 L792.0,481.0 Z" fill="#222"/>
<path d="M865.0,401.0 L865.0,490.0" fill="none" stroke="#2a2a2a" stroke-width="1.05"/>
<path d="M865.0,490.0 L862.0,483.0 L865.0,485.0 L868.0,483.0 Z" fill="#222"/>
<path d="M679.0,355.0 L646.0,355.0" fill="none" stroke="#2a2a2a" stroke-width="1.05"/>
<path d="M646.0,355.0 L653.0,352.0 L651.0,355.0 L653.0,358.0 Z" fill="#222"/>
<path d="M813.0,355.0 L844.0,355.0" fill="none" stroke="#2a2a2a" stroke-width="1.05"/>
<path d="M844.0,355.0 L837.0,358.0 L839.0,355.0 L837.0,352.0 Z" fill="#222"/>
<path d="M211.0,465.0 L211.0,483.0" fill="none" stroke="#2a2a2a" stroke-width="1.05"/>
<path d="M211.0,483.0 L208.0,476.0 L211.0,478.0 L214.0,476.0 Z" fill="#222"/>
<path d="M211.0,520.0 L211.0,540.0" fill="none" stroke="#2a2a2a" stroke-width="1.05"/>
<path d="M211.0,540.0 L208.0,533.0 L211.0,535.0 L214.0,533.0 Z" fill="#222"/>
<path d="M211.0,577.0 L211.0,595.0" fill="none" stroke="#2a2a2a" stroke-width="1.05"/>
<path d="M211.0,595.0 L208.0,588.0 L211.0,590.0 L214.0,588.0 Z" fill="#222"/>
<path d="M211.0,627.0 L211.0,656.0" fill="none" stroke="#2a2a2a" stroke-width="1.05"/>
<path d="M211.0,656.0 L208.0,649.0 L211.0,651.0 L214.0,649.0 Z" fill="#222"/>
<path d="M281.0,470.0 L281.0,484.0" fill="none" stroke="#2a2a2a" stroke-width="1.05"/>
<path d="M281.0,484.0 L278.0,477.0 L281.0,479.0 L284.0,477.0 Z" fill="#222"/>
<path d="M281.0,533.0 L281.0,545.0" fill="none" stroke="#2a2a2a" stroke-width="1.05"/>
<path d="M281.0,545.0 L278.0,538.0 L281.0,540.0 L284.0,538.0 Z" fill="#222"/>
<path d="M281.0,590.0 L281.0,600.0" fill="none" stroke="#2a2a2a" stroke-width="1.05"/>
<path d="M281.0,600.0 L278.0,593.0 L281.0,595.0 L284.0,593.0 Z" fill="#222"/>
<path d="M281.0,642.0 L281.0,656.0" fill="none" stroke="#2a2a2a" stroke-width="1.05"/>
<path d="M281.0,656.0 L278.0,649.0 L281.0,651.0 L284.0,649.0 Z" fill="#222"/>
<path d="M351.0,465.0 L351.0,484.0" fill="none" stroke="#2a2a2a" stroke-width="1.05"/>
<path d="M351.0,484.0 L348.0,477.0 L351.0,479.0 L354.0,477.0 Z" fill="#222"/>
<path d="M351.0,520.0 L351.0,540.0" fill="none" stroke="#2a2a2a" stroke-width="1.05"/>
<path d="M351.0,540.0 L348.0,533.0 L351.0,535.0 L354.0,533.0 Z" fill="#222"/>
<path d="M351.0,577.0 L351.0,595.0" fill="none" stroke="#2a2a2a" stroke-width="1.05"/>
<path d="M351.0,595.0 L348.0,588.0 L351.0,590.0 L354.0,588.0 Z" fill="#222"/>
<path d="M351.0,630.0 L351.0,656.0" fill="none" stroke="#2a2a2a" stroke-width="1.05"/>
<path d="M351.0,656.0 L348.0,649.0 L351.0,651.0 L354.0,649.0 Z" fill="#222"/>
<path d="M430.0,480.0 L430.0,487.0" fill="none" stroke="#2a2a2a" stroke-width="1.05"/>
<path d="M430.0,487.0 L427.0,480.0 L430.0,482.0 L433.0,480.0 Z" fill="#222"/>
<path d="M430.0,540.0 L430.0,548.0" fill="none" stroke="#2a2a2a" stroke-width="1.05"/>
<path d="M430.0,548.0 L427.0,541.0 L430.0,543.0 L433.0,541.0 Z" fill="#222"/>
<path d="M430.0,642.0 L430.0,652.0" fill="none" stroke="#2a2a2a" stroke-width="1.05"/>
<path d="M430.0,652.0 L427.0,645.0 L430.0,647.0 L433.0,645.0 Z" fill="#222"/>
<path d="M430.0,686.0 L430.0,692.0" fill="none" stroke="#2a2a2a" stroke-width="1.05"/>
<path d="M430.0,692.0 L427.0,685.0 L430.0,687.0 L433.0,685.0 Z" fill="#222"/>
<path d="M506.0,540.0 L506.0,552.0" fill="none" stroke="#2a2a2a" stroke-width="1.05"/>
<path d="M506.0,552.0 L503.0,545.0 L506.0,547.0 L509.0,545.0 Z" fill="#222"/>
<path d="M506.0,629.0 L506.0,670.0" fill="none" stroke="#2a2a2a" stroke-width="1.05"/>
<path d="M506.0,670.0 L503.0,663.0 L506.0,665.0 L509.0,663.0 Z" fill="#222"/>
<path d="M701.0,518.0 L701.0,667.0" fill="none" stroke="#2a2a2a" stroke-width="1.05"/>
<path d="M701.0,667.0 L698.0,660.0 L701.0,662.0 L704.0,660.0 Z" fill="#222"/>
<path d="M790.0,575.0 L790.0,664.0" fill="none" stroke="#2a2a2a" stroke-width="1.05"/>
<path d="M790.0,664.0 L787.0,657.0 L790.0,659.0 L793.0,657.0 Z" fill="#222"/>
<path d="M866.0,517.0 L866.0,660.0" fill="none" stroke="#2a2a2a" stroke-width="1.05"/>
<path d="M866.0,660.0 L863.0,653.0 L866.0,655.0 L869.0,653.0 Z" fill="#222"/>
</g>
<g filter="url(#bl2)">
<ellipse cx="454" cy="144.5" rx="15.5" ry="12.5" fill="#e8dcef" stroke="#b8b0c8" stroke-width="1.5"/><ellipse cx="454" cy="144.5" rx="11.16" ry="9.0" fill="#dc5cb8"/>
<ellipse cx="312" cy="192.5" rx="14" ry="11.5" fill="#eadcef" stroke="#b8b4c8" stroke-width="1"/><ellipse cx="312" cy="192.5" rx="11.200000000000001" ry="9.200000000000001" fill="#c01a70"/><ellipse cx="313" cy="191.5" rx="5.6000000000000005" ry="4.0249999999999995" fill="#d83c8c" opacity="0.5"/>
<ellipse cx="313" cy="237.5" rx="14" ry="11.5" fill="#eadcef" stroke="#b8b4c8" stroke-width="1"/><ellipse cx="313" cy="237.5" rx="11.200000000000001" ry="9.200000000000001" fill="#c01a70"/><ellipse cx="314" cy="236.5" rx="5.6000000000000005" ry="4.0249999999999995" fill="#d83c8c" opacity="0.5"/>
<ellipse cx="202.5" cy="242" rx="14" ry="11.5" fill="#eadcef" stroke="#b8b4c8" stroke-width="1"/><ellipse cx="202.5" cy="242" rx="11.200000000000001" ry="9.200000000000001" fill="#c01a70"/><ellipse cx="203.5" cy="241" rx="5.6000000000000005" ry="4.0249999999999995" fill="#d83c8c" opacity="0.5"/>
<ellipse cx="422" cy="237.5" rx="14" ry="11.5" fill="#eadcef" stroke="#b8b4c8" stroke-width="1"/><ellipse cx="422" cy="237.5" rx="11.200000000000001" ry="9.200000000000001" fill="#c01a70"/><ellipse cx="423" cy="236.5" rx="5.6000000000000005" ry="4.0249999999999995" fill="#d83c8c" opacity="0.5"/>
<ellipse cx="743" cy="193" rx="14" ry="12" fill="#eadcef" stroke="#b8b4c8" stroke-width="1"/><ellipse cx="743" cy="193" rx="11.200000000000001" ry="9.600000000000001" fill="#c01a70"/><ellipse cx="744" cy="192" rx="5.6000000000000005" ry="4.199999999999999" fill="#d83c8c" opacity="0.5"/>
<ellipse cx="140.5" cy="281.6" rx="14" ry="11" fill="#eadcef" stroke="#b8b4c8" stroke-width="1"/><ellipse cx="140.5" cy="281.6" rx="11.200000000000001" ry="8.8" fill="#c01a70"/><ellipse cx="141.5" cy="280.6" rx="5.6000000000000005" ry="3.8499999999999996" fill="#d83c8c" opacity="0.5"/>
<ellipse cx="204" cy="283" rx="14" ry="11.5" fill="#eadcef" stroke="#b8b4c8" stroke-width="1"/><ellipse cx="204" cy="283" rx="11.200000000000001" ry="9.200000000000001" fill="#c01a70"/><ellipse cx="205" cy="282" rx="5.6000000000000005" ry="4.0249999999999995" fill="#d83c8c" opacity="0.5"/>
<ellipse cx="278" cy="283" rx="14" ry="11.5" fill="#eadcef" stroke="#b8b4c8" stroke-width="1"/><ellipse cx="278" cy="283" rx="11.200000000000001" ry="9.200000000000001" fill="#c01a70"/><ellipse cx="279" cy="282" rx="5.6000000000000005" ry="4.0249999999999995" fill="#d83c8c" opacity="0.5"/>
<ellipse cx="349" cy="282" rx="14" ry="11.5" fill="#eadcef" stroke="#b8b4c8" stroke-width="1"/><ellipse cx="349" cy="282" rx="11.200000000000001" ry="9.200000000000001" fill="#c01a70"/><ellipse cx="350" cy="281" rx="5.6000000000000005" ry="4.0249999999999995" fill="#d83c8c" opacity="0.5"/>
<ellipse cx="424" cy="282" rx="14" ry="11.5" fill="#eadcef" stroke="#b8b4c8" stroke-width="1"/><ellipse cx="424" cy="282" rx="11.200000000000001" ry="9.200000000000001" fill="#c01a70"/><ellipse cx="425" cy="281" rx="5.6000000000000005" ry="4.0249999999999995" fill="#d83c8c" opacity="0.5"/>
<ellipse cx="500" cy="284" rx="15" ry="12.5" fill="#eadcef" stroke="#b8b4c8" stroke-width="1"/><ellipse cx="500" cy="284" rx="12.0" ry="10.0" fill="#c01a70"/><ellipse cx="501" cy="283" rx="6.0" ry="4.375" fill="#d83c8c" opacity="0.5"/>
<ellipse cx="702" cy="281" rx="14" ry="12.5" fill="#eadcef" stroke="#b8b4c8" stroke-width="1"/><ellipse cx="702" cy="281" rx="11.200000000000001" ry="10.0" fill="#a01050"/><ellipse cx="703" cy="280" rx="5.6000000000000005" ry="4.375" fill="#d83c8c" opacity="0.5"/>
<ellipse cx="793" cy="281" rx="15" ry="13" fill="#eadcef" stroke="#b8b4c8" stroke-width="1"/><ellipse cx="793" cy="281" rx="12.0" ry="10.4" fill="#c01a70"/><ellipse cx="794" cy="280" rx="6.0" ry="4.55" fill="#d83c8c" opacity="0.5"/>
<ellipse cx="138" cy="355.5" rx="18.5" ry="17" fill="#f0e6f2" stroke="#b8bcd0" stroke-width="1.4"/><ellipse cx="138" cy="355.5" rx="14.43" ry="13.26" fill="#e272bc"/><circle cx="135.6" cy="362.1" r="2.0" fill="#d050a0" opacity="0.6"/><circle cx="135.1" cy="363.6" r="2.9" fill="#d050a0" opacity="0.6"/><circle cx="137.0" cy="353.8" r="2.7" fill="#d050a0" opacity="0.6"/><circle cx="135.4" cy="354.6" r="3.0" fill="#d050a0" opacity="0.6"/><circle cx="128.0" cy="353.5" r="2.9" fill="#d050a0" opacity="0.6"/><circle cx="134" cy="352.5" r="2.1" fill="#5a1838"/><circle cx="142" cy="357.5" r="2.1" fill="#5a1838"/><circle cx="137" cy="361.5" r="2.1" fill="#5a1838"/>
<ellipse cx="208" cy="356.5" rx="19.5" ry="17.5" fill="#f0e6f2" stroke="#b8bcd0" stroke-width="1.4"/><ellipse cx="208" cy="356.5" rx="15.21" ry="13.65" fill="#e272bc"/><circle cx="209.2" cy="357.7" r="3.1" fill="#d050a0" opacity="0.6"/><circle cx="208.8" cy="357.2" r="2.3" fill="#d050a0" opacity="0.6"/><circle cx="199.3" cy="355.3" r="2.9" fill="#d050a0" opacity="0.6"/><circle cx="208.2" cy="355.9" r="2.0" fill="#d050a0" opacity="0.6"/><circle cx="208.4" cy="353.1" r="3.1" fill="#d050a0" opacity="0.6"/><circle cx="204" cy="353.5" r="2.1" fill="#5a1838"/><circle cx="212" cy="358.5" r="2.1" fill="#5a1838"/><circle cx="207" cy="362.5" r="2.1" fill="#5a1838"/>
<ellipse cx="279" cy="358" rx="19.5" ry="17.5" fill="#f0e6f2" stroke="#b8bcd0" stroke-width="1.4"/><ellipse cx="279" cy="358" rx="15.21" ry="13.65" fill="#e272bc"/><circle cx="280.4" cy="360.5" r="2.1" fill="#d050a0" opacity="0.6"/><circle cx="284.1" cy="354.4" r="2.5" fill="#d050a0" opacity="0.6"/><circle cx="275.1" cy="359.3" r="2.1" fill="#d050a0" opacity="0.6"/><circle cx="283.8" cy="354.0" r="3.4" fill="#d050a0" opacity="0.6"/><circle cx="272.8" cy="360.5" r="2.4" fill="#d050a0" opacity="0.6"/><circle cx="275" cy="355" r="2.1" fill="#5a1838"/><circle cx="283" cy="360" r="2.1" fill="#5a1838"/><circle cx="278" cy="364" r="2.1" fill="#5a1838"/>
<ellipse cx="349" cy="356" rx="19" ry="17.5" fill="#f0e6f2" stroke="#b8bcd0" stroke-width="1.4"/><ellipse cx="349" cy="356" rx="14.82" ry="13.65" fill="#e272bc"/><circle cx="357.1" cy="352.2" r="2.5" fill="#d050a0" opacity="0.6"/><circle cx="355.8" cy="350.9" r="2.5" fill="#d050a0" opacity="0.6"/><circle cx="341.0" cy="350.0" r="2.7" fill="#d050a0" opacity="0.6"/><circle cx="351.4" cy="355.2" r="2.6" fill="#d050a0" opacity="0.6"/><circle cx="348.5" cy="353.7" r="2.5" fill="#d050a0" opacity="0.6"/><circle cx="345" cy="353" r="2.1" fill="#5a1838"/><circle cx="353" cy="358" r="2.1" fill="#5a1838"/>
<ellipse cx="429" cy="359" rx="19.5" ry="18" fill="#f0e6f2" stroke="#b8bcd0" stroke-width="1.4"/><ellipse cx="429" cy="359" rx="15.21" ry="14.040000000000001" fill="#e272bc"/><circle cx="420.5" cy="359.8" r="2.4" fill="#d050a0" opacity="0.6"/><circle cx="430.8" cy="362.4" r="2.3" fill="#d050a0" opacity="0.6"/><circle cx="432.1" cy="358.4" r="2.8" fill="#d050a0" opacity="0.6"/><circle cx="433.3" cy="362.8" r="2.6" fill="#d050a0" opacity="0.6"/><circle cx="428.4" cy="359.4" r="2.2" fill="#d050a0" opacity="0.6"/><circle cx="425" cy="356" r="2.1" fill="#5a1838"/><circle cx="433" cy="361" r="2.1" fill="#5a1838"/>
<ellipse cx="502.5" cy="359" rx="21" ry="19" fill="#f0e6f2" stroke="#b8bcd0" stroke-width="1.4"/><ellipse cx="502.5" cy="359" rx="16.38" ry="14.82" fill="#e272bc"/><circle cx="500.8" cy="361.3" r="2.3" fill="#d050a0" opacity="0.6"/><circle cx="501.9" cy="361.7" r="2.1" fill="#d050a0" opacity="0.6"/><circle cx="500.5" cy="355.6" r="2.2" fill="#d050a0" opacity="0.6"/><circle cx="502.2" cy="358.0" r="2.4" fill="#d050a0" opacity="0.6"/><circle cx="503.2" cy="357.7" r="2.7" fill="#d050a0" opacity="0.6"/><circle cx="498.5" cy="356" r="2.1" fill="#5a1838"/><circle cx="506.5" cy="361" r="2.1" fill="#5a1838"/>
<ellipse cx="626" cy="359" rx="19" ry="17.5" fill="#f0e6f2" stroke="#b8bcd0" stroke-width="1.4"/><ellipse cx="626" cy="359" rx="14.82" ry="13.65" fill="#e272bc"/><circle cx="626.6" cy="357.4" r="2.5" fill="#d050a0" opacity="0.6"/><circle cx="625.3" cy="355.1" r="3.4" fill="#d050a0" opacity="0.6"/><circle cx="628.6" cy="368.6" r="2.8" fill="#d050a0" opacity="0.6"/><circle cx="626.7" cy="363.7" r="2.2" fill="#d050a0" opacity="0.6"/><circle cx="625.3" cy="356.4" r="3.3" fill="#d050a0" opacity="0.6"/><circle cx="622" cy="356" r="2.1" fill="#5a1838"/><circle cx="630" cy="361" r="2.1" fill="#5a1838"/>
<ellipse cx="699" cy="357.5" rx="19" ry="18" fill="#f0e6f2" stroke="#b8bcd0" stroke-width="1.4"/><ellipse cx="699" cy="357.5" rx="14.82" ry="14.040000000000001" fill="#e272bc"/><circle cx="697.3" cy="359.4" r="2.9" fill="#d050a0" opacity="0.6"/><circle cx="701.1" cy="366.4" r="2.2" fill="#d050a0" opacity="0.6"/><circle cx="693.3" cy="357.0" r="2.4" fill="#d050a0" opacity="0.6"/><circle cx="699.5" cy="353.5" r="3.0" fill="#d050a0" opacity="0.6"/><circle cx="696.0" cy="356.2" r="2.6" fill="#d050a0" opacity="0.6"/><circle cx="695" cy="354.5" r="2.1" fill="#5a1838"/><circle cx="703" cy="359.5" r="2.1" fill="#5a1838"/><circle cx="698" cy="363.5" r="2.1" fill="#5a1838"/>
<ellipse cx="793" cy="357.5" rx="19" ry="18" fill="#f0e6f2" stroke="#b8bcd0" stroke-width="1.4"/><ellipse cx="793" cy="357.5" rx="14.82" ry="14.040000000000001" fill="#e272bc"/><circle cx="796.9" cy="365.5" r="2.5" fill="#d050a0" opacity="0.6"/><circle cx="792.4" cy="356.5" r="2.8" fill="#d050a0" opacity="0.6"/><circle cx="789.6" cy="361.5" r="2.4" fill="#d050a0" opacity="0.6"/><circle cx="796.0" cy="358.8" r="2.3" fill="#d050a0" opacity="0.6"/><circle cx="798.3" cy="362.8" r="2.4" fill="#d050a0" opacity="0.6"/><circle cx="789" cy="354.5" r="2.1" fill="#5a1838"/><circle cx="797" cy="359.5" r="2.1" fill="#5a1838"/><circle cx="792" cy="363.5" r="2.1" fill="#5a1838"/>
<ellipse cx="866" cy="359" rx="19" ry="18" fill="#f0e6f2" stroke="#b8bcd0" stroke-width="1.4"/><ellipse cx="866" cy="359" rx="14.82" ry="14.040000000000001" fill="#e272bc"/><circle cx="872.8" cy="354.6" r="3.3" fill="#d050a0" opacity="0.6"/><circle cx="866.9" cy="357.9" r="2.4" fill="#d050a0" opacity="0.6"/><circle cx="873.0" cy="360.3" r="3.0" fill="#d050a0" opacity="0.6"/><circle cx="863.4" cy="362.5" r="3.0" fill="#d050a0" opacity="0.6"/><circle cx="865.2" cy="356.5" r="3.3" fill="#d050a0" opacity="0.6"/><circle cx="862" cy="356" r="2.1" fill="#5a1838"/><circle cx="870" cy="361" r="2.1" fill="#5a1838"/><circle cx="865" cy="365" r="2.1" fill="#5a1838"/>
<ellipse cx="138" cy="444" rx="17.5" ry="17" fill="#eeecf0" stroke="#d4d4dc" stroke-width="1"/><ellipse cx="137" cy="444" rx="12.6" ry="11.899999999999999" fill="#b81850"/><circle cx="135.9" cy="442.9" r="1.3" fill="#e05a90" opacity="0.55"/><circle cx="142.5" cy="440.6" r="1.9" fill="#e05a90" opacity="0.55"/><circle cx="137.3" cy="444.1" r="1.4" fill="#e05a90" opacity="0.55"/><circle cx="137.9" cy="446.5" r="1.6" fill="#e05a90" opacity="0.55"/><circle cx="139.6" cy="444.7" r="1.8" fill="#e05a90" opacity="0.55"/><circle cx="140.1" cy="450.6" r="1.8" fill="#e05a90" opacity="0.55"/><circle cx="136.5" cy="441.8" r="1.6" fill="#e05a90" opacity="0.55"/>
<ellipse cx="210" cy="442" rx="21.5" ry="19" fill="#e4eef4" stroke="#d8dce4" stroke-width="0.8"/><ellipse cx="210" cy="442" rx="16.77" ry="14.82" fill="#c41e66"/><circle cx="208.6" cy="438.8" r="1.5" fill="#e878b8" opacity="0.45"/><circle cx="213.9" cy="435.2" r="1.8" fill="#e878b8" opacity="0.45"/><circle cx="218.3" cy="444.3" r="2.1" fill="#e878b8" opacity="0.45"/><circle cx="212.4" cy="442.7" r="1.6" fill="#e878b8" opacity="0.45"/><circle cx="227.5" cy="442.9" r="0.95" fill="#3a2448"/><circle cx="228.7" cy="447.0" r="0.95" fill="#3a2448"/><circle cx="228.2" cy="447.6" r="0.95" fill="#3a2448"/><circle cx="226.0" cy="451.8" r="0.95" fill="#3a2448"/><circle cx="221.0" cy="454.4" r="0.95" fill="#3a2448"/><circle cx="221.5" cy="456.7" r="0.95" fill="#3a2448"/><circle cx="216.5" cy="458.9" r="0.95" fill="#3a2448"/><circle cx="211.3" cy="459.2" r="0.95" fill="#3a2448"/><circle cx="206.8" cy="458.6" r="0.95" fill="#3a2448"/><circle cx="204.9" cy="456.3" r="0.95" fill="#3a2448"/><circle cx="200.2" cy="455.7" r="0.95" fill="#3a2448"/><circle cx="196.5" cy="455.2" r="0.95" fill="#3a2448"/><circle cx="195.1" cy="453.2" r="0.95" fill="#3a2448"/><circle cx="193.1" cy="450.3" r="0.95" fill="#3a2448"/><circle cx="192.5" cy="444.3" r="0.95" fill="#3a2448"/><circle cx="189.7" cy="441.8" r="0.95" fill="#3a2448"/><circle cx="191.8" cy="438.1" r="0.95" fill="#3a2448"/><circle cx="194.2" cy="436.6" r="0.95" fill="#3a2448"/><circle cx="194.9" cy="432.9" r="0.95" fill="#3a2448"/><circle cx="197.2" cy="430.9" r="0.95" fill="#3a2448"/><circle cx="199.1" cy="427.8" r="0.95" fill="#3a2448"/><circle cx="205.1" cy="427.0" r="0.95" fill="#3a2448"/><circle cx="207.1" cy="425.7" r="0.95" fill="#3a2448"/><circle cx="211.9" cy="424.2" r="0.95" fill="#3a2448"/><circle cx="215.0" cy="426.8" r="0.95" fill="#3a2448"/><circle cx="219.8" cy="429.4" r="0.95" fill="#3a2448"/><circle cx="222.2" cy="430.3" r="0.95" fill="#3a2448"/><circle cx="225.9" cy="433.1" r="0.95" fill="#3a2448"/><circle cx="226.2" cy="436.5" r="0.95" fill="#3a2448"/><circle cx="228.7" cy="439.1" r="0.95" fill="#3a2448"/>
<ellipse cx="280" cy="443" rx="21" ry="19" fill="#ece8f2" stroke="#d8dce4" stroke-width="0.8"/><ellipse cx="280" cy="443" rx="16.38" ry="14.82" fill="#cc2a7c"/><circle cx="272.7" cy="444.8" r="2.3" fill="#e878b8" opacity="0.45"/><circle cx="282.1" cy="444.9" r="1.9" fill="#e878b8" opacity="0.45"/><circle cx="280.2" cy="443.6" r="1.8" fill="#e878b8" opacity="0.45"/><circle cx="282.3" cy="449.5" r="1.9" fill="#e878b8" opacity="0.45"/><circle cx="297.5" cy="441.8" r="0.95" fill="#3a2448"/><circle cx="297.3" cy="446.2" r="0.95" fill="#3a2448"/><circle cx="295.6" cy="448.2" r="0.95" fill="#3a2448"/><circle cx="297.2" cy="452.1" r="0.95" fill="#3a2448"/><circle cx="290.5" cy="454.7" r="0.95" fill="#3a2448"/><circle cx="289.2" cy="459.0" r="0.95" fill="#3a2448"/><circle cx="285.0" cy="457.5" r="0.95" fill="#3a2448"/><circle cx="281.9" cy="459.1" r="0.95" fill="#3a2448"/><circle cx="279.2" cy="459.6" r="0.95" fill="#3a2448"/><circle cx="275.8" cy="460.4" r="0.95" fill="#3a2448"/><circle cx="270.2" cy="457.3" r="0.95" fill="#3a2448"/><circle cx="266.3" cy="454.5" r="0.95" fill="#3a2448"/><circle cx="266.6" cy="452.8" r="0.95" fill="#3a2448"/><circle cx="265.5" cy="450.0" r="0.95" fill="#3a2448"/><circle cx="260.9" cy="445.7" r="0.95" fill="#3a2448"/><circle cx="263.0" cy="443.6" r="0.95" fill="#3a2448"/><circle cx="261.1" cy="438.9" r="0.95" fill="#3a2448"/><circle cx="265.1" cy="435.6" r="0.95" fill="#3a2448"/><circle cx="265.0" cy="431.9" r="0.95" fill="#3a2448"/><circle cx="268.9" cy="430.7" r="0.95" fill="#3a2448"/><circle cx="269.3" cy="428.4" r="0.95" fill="#3a2448"/><circle cx="273.9" cy="428.0" r="0.95" fill="#3a2448"/><circle cx="278.3" cy="427.1" r="0.95" fill="#3a2448"/><circle cx="282.9" cy="427.6" r="0.95" fill="#3a2448"/><circle cx="284.1" cy="426.8" r="0.95" fill="#3a2448"/><circle cx="290.1" cy="428.1" r="0.95" fill="#3a2448"/><circle cx="293.7" cy="430.3" r="0.95" fill="#3a2448"/><circle cx="295.6" cy="434.6" r="0.95" fill="#3a2448"/><circle cx="295.5" cy="436.8" r="0.95" fill="#3a2448"/><circle cx="297.9" cy="438.9" r="0.95" fill="#3a2448"/>
<ellipse cx="350" cy="442" rx="19" ry="18" fill="#e2eaf2" stroke="#d8dce4" stroke-width="0.8"/><ellipse cx="350" cy="442" rx="14.82" ry="14.040000000000001" fill="#d03a8e"/><circle cx="355.4" cy="445.0" r="1.7" fill="#e878b8" opacity="0.45"/><circle cx="341.9" cy="445.0" r="1.6" fill="#e878b8" opacity="0.45"/><circle cx="353.8" cy="443.0" r="1.7" fill="#e878b8" opacity="0.45"/><circle cx="350.0" cy="442.0" r="2.3" fill="#e878b8" opacity="0.45"/><circle cx="367.3" cy="443.2" r="0.95" fill="#3a2448"/><circle cx="365.4" cy="444.9" r="0.95" fill="#3a2448"/><circle cx="364.8" cy="448.8" r="0.95" fill="#3a2448"/><circle cx="363.0" cy="450.7" r="0.95" fill="#3a2448"/><circle cx="361.5" cy="453.8" r="0.95" fill="#3a2448"/><circle cx="357.8" cy="457.1" r="0.95" fill="#3a2448"/><circle cx="355.9" cy="455.9" r="0.95" fill="#3a2448"/><circle cx="351.9" cy="457.7" r="0.95" fill="#3a2448"/><circle cx="348.9" cy="456.6" r="0.95" fill="#3a2448"/><circle cx="346.4" cy="456.6" r="0.95" fill="#3a2448"/><circle cx="341.1" cy="456.8" r="0.95" fill="#3a2448"/><circle cx="337.2" cy="453.4" r="0.95" fill="#3a2448"/><circle cx="334.6" cy="450.6" r="0.95" fill="#3a2448"/><circle cx="333.9" cy="448.4" r="0.95" fill="#3a2448"/><circle cx="333.7" cy="446.7" r="0.95" fill="#3a2448"/><circle cx="334.2" cy="441.7" r="0.95" fill="#3a2448"/><circle cx="332.5" cy="438.2" r="0.95" fill="#3a2448"/><circle cx="334.5" cy="435.5" r="0.95" fill="#3a2448"/><circle cx="336.7" cy="433.6" r="0.95" fill="#3a2448"/><circle cx="340.9" cy="430.8" r="0.95" fill="#3a2448"/><circle cx="340.6" cy="428.6" r="0.95" fill="#3a2448"/><circle cx="345.2" cy="428.4" r="0.95" fill="#3a2448"/><circle cx="348.8" cy="426.9" r="0.95" fill="#3a2448"/><circle cx="351.9" cy="426.8" r="0.95" fill="#3a2448"/><circle cx="355.2" cy="427.0" r="0.95" fill="#3a2448"/><circle cx="357.3" cy="429.4" r="0.95" fill="#3a2448"/><circle cx="361.0" cy="428.9" r="0.95" fill="#3a2448"/><circle cx="362.4" cy="433.7" r="0.95" fill="#3a2448"/><circle cx="364.7" cy="437.0" r="0.95" fill="#3a2448"/><circle cx="365.8" cy="437.5" r="0.95" fill="#3a2448"/>
<ellipse cx="430.6" cy="441" rx="20" ry="19" fill="#eadcef" stroke="#a8a8c0" stroke-width="1.3"/><ellipse cx="430.6" cy="441" rx="16.8" ry="15.959999999999999" fill="#d02c88"/><circle cx="430.5" cy="446.9" r="2.3" fill="#e860b0" opacity="0.5"/><circle cx="431.6" cy="447.8" r="1.7" fill="#e860b0" opacity="0.5"/><circle cx="423.6" cy="440.4" r="1.6" fill="#e860b0" opacity="0.5"/><circle cx="429.9" cy="441.5" r="2.2" fill="#e860b0" opacity="0.5"/><circle cx="434.9" cy="436.0" r="2.6" fill="#e860b0" opacity="0.5"/><circle cx="430.7" cy="439.6" r="3.0" fill="#e860b0" opacity="0.5"/>
<ellipse cx="210" cy="501" rx="18" ry="17" fill="#f6eaf0" stroke="#d8dce4" stroke-width="0.8"/><ellipse cx="210" cy="501" rx="10.44" ry="9.86" fill="#c43c82"/><circle cx="209.9" cy="500.4" r="2.3" fill="#e878b8" opacity="0.45"/><circle cx="209.2" cy="501.7" r="2.5" fill="#e878b8" opacity="0.45"/><circle cx="205.5" cy="499.1" r="1.6" fill="#e878b8" opacity="0.45"/><circle cx="210.1" cy="500.6" r="1.7" fill="#e878b8" opacity="0.45"/><circle cx="220.9" cy="500.7" r="0.95" fill="#3a2448"/><circle cx="221.7" cy="504.0" r="0.95" fill="#3a2448"/><circle cx="223.8" cy="507.2" r="0.95" fill="#3a2448"/><circle cx="222.4" cy="511.1" r="0.95" fill="#3a2448"/><circle cx="218.9" cy="513.9" r="0.95" fill="#3a2448"/><circle cx="215.7" cy="515.7" r="0.95" fill="#3a2448"/><circle cx="210.6" cy="512.2" r="0.95" fill="#3a2448"/><circle cx="207.8" cy="513.1" r="0.95" fill="#3a2448"/><circle cx="203.9" cy="514.0" r="0.95" fill="#3a2448"/><circle cx="202.8" cy="509.6" r="0.95" fill="#3a2448"/><circle cx="198.7" cy="510.9" r="0.95" fill="#3a2448"/><circle cx="195.8" cy="506.6" r="0.95" fill="#3a2448"/><circle cx="196.2" cy="505.5" r="0.95" fill="#3a2448"/><circle cx="195.8" cy="502.1" r="0.95" fill="#3a2448"/><circle cx="199.0" cy="497.8" r="0.95" fill="#3a2448"/><circle cx="197.3" cy="493.3" r="0.95" fill="#3a2448"/><circle cx="200.6" cy="493.9" r="0.95" fill="#3a2448"/><circle cx="200.7" cy="488.6" r="0.95" fill="#3a2448"/><circle cx="206.1" cy="490.8" r="0.95" fill="#3a2448"/><circle cx="207.5" cy="490.4" r="0.95" fill="#3a2448"/><circle cx="212.2" cy="489.9" r="0.95" fill="#3a2448"/><circle cx="214.6" cy="489.9" r="0.95" fill="#3a2448"/><circle cx="217.9" cy="491.0" r="0.95" fill="#3a2448"/><circle cx="221.4" cy="490.0" r="0.95" fill="#3a2448"/><circle cx="223.5" cy="494.5" r="0.95" fill="#3a2448"/><circle cx="226.5" cy="498.2" r="0.95" fill="#3a2448"/>
<ellipse cx="280.6" cy="501" rx="19" ry="18" fill="#f8f0d4" stroke="#d8dce4" stroke-width="0.8"/><ellipse cx="280.6" cy="501" rx="11.02" ry="10.44" fill="#982060"/><circle cx="282.9" cy="501.2" r="1.7" fill="#e878b8" opacity="0.45"/><circle cx="274.8" cy="500.9" r="2.3" fill="#e878b8" opacity="0.45"/><circle cx="281.8" cy="501.3" r="2.3" fill="#e878b8" opacity="0.45"/><circle cx="279.5" cy="498.7" r="2.0" fill="#e878b8" opacity="0.45"/><circle cx="297.6" cy="499.9" r="0.95" fill="#b07838"/><circle cx="297.4" cy="504.6" r="0.95" fill="#b07838"/><circle cx="291.0" cy="506.5" r="0.95" fill="#b07838"/><circle cx="290.5" cy="508.7" r="0.95" fill="#b07838"/><circle cx="288.3" cy="513.6" r="0.95" fill="#b07838"/><circle cx="286.1" cy="511.7" r="0.95" fill="#b07838"/><circle cx="282.7" cy="514.6" r="0.95" fill="#b07838"/><circle cx="278.7" cy="514.1" r="0.95" fill="#b07838"/><circle cx="276.9" cy="511.2" r="0.95" fill="#b07838"/><circle cx="272.7" cy="511.5" r="0.95" fill="#b07838"/><circle cx="270.7" cy="511.0" r="0.95" fill="#b07838"/><circle cx="269.8" cy="505.2" r="0.95" fill="#b07838"/><circle cx="265.5" cy="505.6" r="0.95" fill="#b07838"/><circle cx="267.4" cy="501.6" r="0.95" fill="#b07838"/><circle cx="267.8" cy="498.0" r="0.95" fill="#b07838"/><circle cx="267.5" cy="494.3" r="0.95" fill="#b07838"/><circle cx="268.3" cy="488.6" r="0.95" fill="#b07838"/><circle cx="270.9" cy="490.0" r="0.95" fill="#b07838"/><circle cx="275.4" cy="485.5" r="0.95" fill="#b07838"/><circle cx="279.6" cy="486.2" r="0.95" fill="#b07838"/><circle cx="282.6" cy="488.1" r="0.95" fill="#b07838"/><circle cx="285.8" cy="486.0" r="0.95" fill="#b07838"/><circle cx="291.7" cy="488.0" r="0.95" fill="#b07838"/><circle cx="291.0" cy="492.9" r="0.95" fill="#b07838"/><circle cx="295.4" cy="494.5" r="0.95" fill="#b07838"/><circle cx="295.8" cy="497.5" r="0.95" fill="#b07838"/>
<ellipse cx="350" cy="500" rx="18" ry="17" fill="#f6e8ec" stroke="#d8dce4" stroke-width="0.8"/><ellipse cx="350" cy="500" rx="10.44" ry="9.86" fill="#781434"/><circle cx="348.0" cy="502.8" r="1.9" fill="#e878b8" opacity="0.45"/><circle cx="352.0" cy="500.8" r="1.8" fill="#e878b8" opacity="0.45"/><circle cx="353.0" cy="499.8" r="1.9" fill="#e878b8" opacity="0.45"/><circle cx="350.1" cy="501.5" r="1.8" fill="#e878b8" opacity="0.45"/><circle cx="360.8" cy="499.3" r="0.95" fill="#3a2448"/><circle cx="363.0" cy="504.0" r="0.95" fill="#3a2448"/><circle cx="362.8" cy="506.2" r="0.95" fill="#3a2448"/><circle cx="359.2" cy="507.1" r="0.95" fill="#3a2448"/><circle cx="358.1" cy="509.2" r="0.95" fill="#3a2448"/><circle cx="356.0" cy="513.4" r="0.95" fill="#3a2448"/><circle cx="351.8" cy="515.7" r="0.95" fill="#3a2448"/><circle cx="348.5" cy="515.6" r="0.95" fill="#3a2448"/><circle cx="345.8" cy="509.9" r="0.95" fill="#3a2448"/><circle cx="342.6" cy="511.7" r="0.95" fill="#3a2448"/><circle cx="339.4" cy="507.2" r="0.95" fill="#3a2448"/><circle cx="337.7" cy="505.3" r="0.95" fill="#3a2448"/><circle cx="338.9" cy="501.8" r="0.95" fill="#3a2448"/><circle cx="333.5" cy="500.0" r="0.95" fill="#3a2448"/><circle cx="337.8" cy="497.7" r="0.95" fill="#3a2448"/><circle cx="339.0" cy="495.8" r="0.95" fill="#3a2448"/><circle cx="338.1" cy="491.0" r="0.95" fill="#3a2448"/><circle cx="341.8" cy="490.1" r="0.95" fill="#3a2448"/><circle cx="344.0" cy="487.4" r="0.95" fill="#3a2448"/><circle cx="349.3" cy="486.0" r="0.95" fill="#3a2448"/><circle cx="350.9" cy="485.5" r="0.95" fill="#3a2448"/><circle cx="356.4" cy="487.6" r="0.95" fill="#3a2448"/><circle cx="357.9" cy="487.0" r="0.95" fill="#3a2448"/><circle cx="360.3" cy="492.6" r="0.95" fill="#3a2448"/><circle cx="360.2" cy="494.0" r="0.95" fill="#3a2448"/><circle cx="365.9" cy="496.4" r="0.95" fill="#3a2448"/>
<ellipse cx="428" cy="500" rx="17" ry="16" fill="#dcd8e8" stroke="#8890a8" stroke-width="1.3"/><ellipse cx="428" cy="500" rx="12.24" ry="11.52" fill="#a81c54"/><circle cx="423.0" cy="494.0" r="1.4" fill="#d04888" opacity="0.5"/><circle cx="425.1" cy="505.6" r="1.8" fill="#d04888" opacity="0.5"/><circle cx="423.2" cy="503.2" r="1.5" fill="#d04888" opacity="0.5"/><circle cx="431.3" cy="501.2" r="1.2" fill="#d04888" opacity="0.5"/><circle cx="426.0" cy="498.0" r="1.7" fill="#d04888" opacity="0.5"/>
<ellipse cx="702.8" cy="504" rx="14" ry="13" fill="#c8d4e8" stroke="#8898b8" stroke-width="1"/><ellipse cx="702.8" cy="504" rx="10.08" ry="9.36" fill="#b01860"/>
<ellipse cx="791" cy="504" rx="14" ry="13" fill="#c8d4e8" stroke="#8898b8" stroke-width="1"/><ellipse cx="791" cy="504" rx="10.08" ry="9.36" fill="#b01860"/>
<ellipse cx="868.75" cy="503" rx="14" ry="13" fill="#c8d4e8" stroke="#8898b8" stroke-width="1"/><ellipse cx="868.75" cy="503" rx="10.08" ry="9.36" fill="#b01860"/>
<ellipse cx="211" cy="558" rx="18" ry="17" fill="#f6e6ee" stroke="#e0d8d8" stroke-width="0.6"/><circle cx="202.4" cy="552.3" r="0.9" fill="#3a2040"/><circle cx="204.0" cy="559.6" r="0.9" fill="#3a2040"/><circle cx="223.1" cy="552.1" r="0.9" fill="#3a2040"/><circle cx="218.9" cy="557.4" r="0.9" fill="#3a2040"/><circle cx="199.7" cy="548.7" r="0.9" fill="#3a2040"/><circle cx="207.0" cy="565.0" r="0.9" fill="#3a2040"/><circle cx="216.1" cy="565.2" r="0.9" fill="#3a2040"/><circle cx="211.9" cy="550.1" r="0.9" fill="#3a2040"/><circle cx="215.8" cy="547.3" r="0.9" fill="#3a2040"/><circle cx="197.6" cy="554.9" r="0.9" fill="#3a2040"/><circle cx="197.4" cy="553.4" r="0.9" fill="#3a2040"/><circle cx="201.9" cy="551.6" r="0.9" fill="#3a2040"/><circle cx="210.4" cy="548.1" r="0.9" fill="#3a2040"/><circle cx="207.3" cy="544.0" r="0.9" fill="#3a2040"/><circle cx="212.8" cy="547.6" r="0.9" fill="#3a2040"/><circle cx="213.4" cy="542.2" r="0.9" fill="#3a2040"/><circle cx="200.7" cy="561.0" r="0.9" fill="#3a2040"/><circle cx="194.5" cy="555.7" r="0.9" fill="#3a2040"/><circle cx="215.8" cy="563.0" r="0.9" fill="#3a2040"/><circle cx="196.8" cy="560.1" r="0.9" fill="#3a2040"/><circle cx="212.7" cy="547.1" r="0.9" fill="#3a2040"/><circle cx="221.2" cy="557.3" r="0.9" fill="#3a2040"/><circle cx="211.3" cy="550.1" r="0.9" fill="#3a2040"/><circle cx="219.9" cy="559.5" r="0.9" fill="#3a2040"/><circle cx="223.1" cy="562.6" r="0.9" fill="#3a2040"/><circle cx="201.9" cy="554.9" r="0.9" fill="#3a2040"/><circle cx="221.9" cy="553.9" r="0.9" fill="#3a2040"/><circle cx="216.7" cy="565.3" r="0.9" fill="#3a2040"/><circle cx="209.7" cy="542.5" r="0.9" fill="#3a2040"/><circle cx="214.9" cy="564.0" r="0.9" fill="#3a2040"/><circle cx="212.8" cy="548.4" r="0.9" fill="#3a2040"/><circle cx="223.9" cy="556.6" r="0.9" fill="#3a2040"/><circle cx="203.4" cy="549.8" r="0.9" fill="#3a2040"/><circle cx="214.9" cy="546.6" r="0.9" fill="#3a2040"/><path d="M203,554 C205,548 215,548 217,553 C213,555 212,560 217,562 C214,567 205,567 203,561 C201,558 202,556 203,554 Z" fill="#8c2c64" transform="translate(211,558) scale(0.85) translate(-211,-558)"/>
<ellipse cx="283" cy="558" rx="19" ry="18" fill="#f8f0d0" stroke="#e0d8d8" stroke-width="0.6"/><circle cx="275.3" cy="572.7" r="0.9" fill="#6a4a40"/><circle cx="295.4" cy="567.4" r="0.9" fill="#6a4a40"/><circle cx="296.9" cy="563.7" r="0.9" fill="#6a4a40"/><circle cx="269.2" cy="567.3" r="0.9" fill="#6a4a40"/><circle cx="296.4" cy="563.0" r="0.9" fill="#6a4a40"/><circle cx="268.3" cy="566.9" r="0.9" fill="#6a4a40"/><circle cx="297.1" cy="553.2" r="0.9" fill="#6a4a40"/><circle cx="284.8" cy="568.3" r="0.9" fill="#6a4a40"/><circle cx="282.0" cy="570.4" r="0.9" fill="#6a4a40"/><circle cx="284.2" cy="567.8" r="0.9" fill="#6a4a40"/><circle cx="283.8" cy="543.7" r="0.9" fill="#6a4a40"/><circle cx="277.6" cy="574.3" r="0.9" fill="#6a4a40"/><circle cx="286.0" cy="571.4" r="0.9" fill="#6a4a40"/><circle cx="292.4" cy="571.4" r="0.9" fill="#6a4a40"/><circle cx="290.6" cy="550.2" r="0.9" fill="#6a4a40"/><circle cx="283.1" cy="542.2" r="0.9" fill="#6a4a40"/><circle cx="280.6" cy="569.1" r="0.9" fill="#6a4a40"/><circle cx="265.9" cy="559.5" r="0.9" fill="#6a4a40"/><circle cx="291.2" cy="570.4" r="0.9" fill="#6a4a40"/><circle cx="272.1" cy="550.8" r="0.9" fill="#6a4a40"/><circle cx="267.9" cy="550.3" r="0.9" fill="#6a4a40"/><circle cx="287.3" cy="573.7" r="0.9" fill="#6a4a40"/><circle cx="272.6" cy="569.9" r="0.9" fill="#6a4a40"/><circle cx="289.6" cy="550.7" r="0.9" fill="#6a4a40"/><circle cx="294.8" cy="545.1" r="0.9" fill="#6a4a40"/><circle cx="280.7" cy="565.1" r="0.9" fill="#6a4a40"/><circle cx="296.6" cy="568.9" r="0.9" fill="#6a4a40"/><circle cx="300.3" cy="559.0" r="0.9" fill="#6a4a40"/><circle cx="292.3" cy="570.2" r="0.9" fill="#6a4a40"/><circle cx="291.2" cy="563.4" r="0.9" fill="#6a4a40"/><circle cx="279.3" cy="550.3" r="0.9" fill="#6a4a40"/><circle cx="273.7" cy="572.0" r="0.9" fill="#6a4a40"/><circle cx="279.4" cy="542.2" r="0.9" fill="#6a4a40"/><circle cx="290.9" cy="557.0" r="0.9" fill="#6a4a40"/><path d="M275,554 C277,548 287,548 289,553 C285,555 284,560 289,562 C286,567 277,567 275,561 C273,558 274,556 275,554 Z" fill="#8c2c64" transform="translate(283,558) scale(0.85) translate(-283,-558)"/>
<ellipse cx="352" cy="558" rx="18" ry="17" fill="#f6e4ec" stroke="#e0d8d8" stroke-width="0.6"/><circle cx="353.5" cy="572.6" r="0.9" fill="#3a2040"/><circle cx="349.2" cy="551.3" r="0.9" fill="#3a2040"/><circle cx="341.8" cy="557.7" r="0.9" fill="#3a2040"/><circle cx="344.2" cy="561.4" r="0.9" fill="#3a2040"/><circle cx="368.9" cy="560.0" r="0.9" fill="#3a2040"/><circle cx="345.4" cy="572.0" r="0.9" fill="#3a2040"/><circle cx="361.4" cy="566.4" r="0.9" fill="#3a2040"/><circle cx="360.1" cy="566.8" r="0.9" fill="#3a2040"/><circle cx="358.3" cy="570.5" r="0.9" fill="#3a2040"/><circle cx="361.0" cy="569.4" r="0.9" fill="#3a2040"/><circle cx="343.3" cy="558.0" r="0.9" fill="#3a2040"/><circle cx="344.1" cy="567.8" r="0.9" fill="#3a2040"/><circle cx="362.1" cy="552.6" r="0.9" fill="#3a2040"/><circle cx="355.7" cy="573.5" r="0.9" fill="#3a2040"/><circle cx="363.1" cy="548.5" r="0.9" fill="#3a2040"/><circle cx="350.6" cy="566.9" r="0.9" fill="#3a2040"/><circle cx="351.3" cy="565.6" r="0.9" fill="#3a2040"/><circle cx="364.6" cy="561.3" r="0.9" fill="#3a2040"/><circle cx="340.6" cy="565.0" r="0.9" fill="#3a2040"/><circle cx="347.4" cy="563.1" r="0.9" fill="#3a2040"/><circle cx="346.5" cy="545.4" r="0.9" fill="#3a2040"/><circle cx="339.0" cy="554.5" r="0.9" fill="#3a2040"/><circle cx="345.8" cy="543.1" r="0.9" fill="#3a2040"/><circle cx="362.5" cy="547.9" r="0.9" fill="#3a2040"/><circle cx="343.0" cy="564.3" r="0.9" fill="#3a2040"/><circle cx="337.3" cy="565.8" r="0.9" fill="#3a2040"/><circle cx="343.0" cy="565.3" r="0.9" fill="#3a2040"/><circle cx="344.3" cy="562.6" r="0.9" fill="#3a2040"/><circle cx="359.1" cy="557.9" r="0.9" fill="#3a2040"/><circle cx="339.1" cy="548.2" r="0.9" fill="#3a2040"/><circle cx="351.6" cy="571.3" r="0.9" fill="#3a2040"/><circle cx="344.6" cy="564.8" r="0.9" fill="#3a2040"/><circle cx="354.8" cy="565.8" r="0.9" fill="#3a2040"/><circle cx="360.5" cy="545.8" r="0.9" fill="#3a2040"/><path d="M344,554 C346,548 356,548 358,553 C354,555 353,560 358,562 C355,567 346,567 344,561 C342,558 343,556 344,554 Z" fill="#8c2c64" transform="translate(352,558) scale(0.85) translate(-352,-558)"/>
<ellipse cx="429" cy="558" rx="12" ry="11" fill="#e8d8e0" stroke="#a090a0" stroke-width="1"/><ellipse cx="429" cy="558" rx="7.199999999999999" ry="6.6" fill="#802050"/>
<ellipse cx="211" cy="611" rx="15" ry="15" fill="#ecdcec"/><circle cx="213.7" cy="609.3" r="1.25" fill="#4a1848"/><circle cx="208.2" cy="603.4" r="1.25" fill="#4a1848"/><circle cx="204.6" cy="602.6" r="1.25" fill="#4a1848"/><circle cx="205.4" cy="623.9" r="1.25" fill="#4a1848"/><circle cx="223.3" cy="611.1" r="1.25" fill="#4a1848"/><circle cx="217.2" cy="602.9" r="1.25" fill="#4a1848"/><circle cx="199.1" cy="603.2" r="1.25" fill="#4a1848"/><circle cx="212.1" cy="622.2" r="1.25" fill="#4a1848"/><circle cx="210.6" cy="602.2" r="1.25" fill="#4a1848"/><circle cx="208.9" cy="602.3" r="1.25" fill="#4a1848"/><circle cx="200.0" cy="609.2" r="1.25" fill="#4a1848"/><circle cx="207.4" cy="603.8" r="1.25" fill="#4a1848"/><circle cx="203.8" cy="603.4" r="1.25" fill="#4a1848"/><circle cx="212.9" cy="622.0" r="1.25" fill="#4a1848"/><circle cx="209.7" cy="624.5" r="1.25" fill="#4a1848"/><circle cx="199.1" cy="613.0" r="1.25" fill="#4a1848"/><circle cx="201.3" cy="609.6" r="1.25" fill="#4a1848"/><circle cx="212.0" cy="616.3" r="1.25" fill="#4a1848"/><circle cx="220.3" cy="606.4" r="1.25" fill="#4a1848"/><circle cx="200.8" cy="609.5" r="1.25" fill="#4a1848"/><circle cx="213.7" cy="604.6" r="1.25" fill="#4a1848"/><circle cx="217.0" cy="622.4" r="1.25" fill="#4a1848"/><circle cx="200.0" cy="613.8" r="1.25" fill="#4a1848"/><circle cx="217.3" cy="599.1" r="1.25" fill="#4a1848"/><circle cx="213.0" cy="608.8" r="1.25" fill="#4a1848"/><circle cx="201.5" cy="619.8" r="1.25" fill="#4a1848"/><circle cx="213.1" cy="606.5" r="1.25" fill="#4a1848"/><circle cx="215.1" cy="616.9" r="1.25" fill="#4a1848"/><circle cx="217.8" cy="616.1" r="1.25" fill="#4a1848"/><circle cx="214.4" cy="601.3" r="1.25" fill="#4a1848"/><circle cx="207.0" cy="612.2" r="1.25" fill="#4a1848"/><circle cx="199.7" cy="619.7" r="1.25" fill="#4a1848"/><circle cx="207.8" cy="602.0" r="1.25" fill="#4a1848"/><circle cx="198.4" cy="612.7" r="1.25" fill="#4a1848"/><circle cx="211.3" cy="605.5" r="1.25" fill="#4a1848"/><circle cx="207.3" cy="603.2" r="1.25" fill="#4a1848"/><circle cx="204.1" cy="610.1" r="1.25" fill="#4a1848"/><circle cx="205.3" cy="617.0" r="1.25" fill="#4a1848"/><circle cx="209.6" cy="612.3" r="1.25" fill="#4a1848"/><circle cx="214.3" cy="621.2" r="1.25" fill="#4a1848"/><circle cx="216.6" cy="613.1" r="1.25" fill="#4a1848"/><circle cx="209.5" cy="603.7" r="1.25" fill="#4a1848"/><circle cx="207.9" cy="617.3" r="1.25" fill="#4a1848"/><circle cx="213.2" cy="607.3" r="1.25" fill="#4a1848"/><circle cx="202.3" cy="601.0" r="1.25" fill="#4a1848"/><circle cx="213.8" cy="619.8" r="1.25" fill="#4a1848"/><circle cx="213.9" cy="600.2" r="1.25" fill="#4a1848"/><circle cx="208.9" cy="613.2" r="1.25" fill="#4a1848"/><circle cx="202.9" cy="614.0" r="1.25" fill="#4a1848"/><circle cx="209.2" cy="603.5" r="1.25" fill="#4a1848"/><circle cx="201.4" cy="617.3" r="1.25" fill="#4a1848"/><circle cx="214.2" cy="603.2" r="1.25" fill="#4a1848"/><circle cx="202.9" cy="618.1" r="1.25" fill="#4a1848"/><circle cx="216.5" cy="608.2" r="1.25" fill="#4a1848"/><circle cx="222.8" cy="608.9" r="1.25" fill="#4a1848"/><circle cx="202.9" cy="619.3" r="1.25" fill="#4a1848"/><circle cx="209.2" cy="614.3" r="1.25" fill="#4a1848"/><circle cx="211.3" cy="602.2" r="1.25" fill="#4a1848"/><circle cx="201.1" cy="609.4" r="1.25" fill="#4a1848"/><circle cx="221.1" cy="603.8" r="1.25" fill="#4a1848"/>
<ellipse cx="283" cy="612" rx="17" ry="16" fill="#f8f0d0" stroke="#e0d8d8" stroke-width="0.6"/><circle cx="295.9" cy="614.0" r="0.9" fill="#6a4a40"/><circle cx="271.4" cy="614.6" r="0.9" fill="#6a4a40"/><circle cx="289.1" cy="602.8" r="0.9" fill="#6a4a40"/><circle cx="267.8" cy="614.4" r="0.9" fill="#6a4a40"/><circle cx="271.6" cy="616.3" r="0.9" fill="#6a4a40"/><circle cx="268.1" cy="611.0" r="0.9" fill="#6a4a40"/><circle cx="276.1" cy="600.2" r="0.9" fill="#6a4a40"/><circle cx="277.1" cy="615.9" r="0.9" fill="#6a4a40"/><circle cx="277.5" cy="601.1" r="0.9" fill="#6a4a40"/><circle cx="284.7" cy="598.4" r="0.9" fill="#6a4a40"/><circle cx="290.0" cy="618.1" r="0.9" fill="#6a4a40"/><circle cx="296.1" cy="618.5" r="0.9" fill="#6a4a40"/><circle cx="289.3" cy="616.4" r="0.9" fill="#6a4a40"/><circle cx="283.2" cy="599.9" r="0.9" fill="#6a4a40"/><circle cx="296.0" cy="616.4" r="0.9" fill="#6a4a40"/><circle cx="280.0" cy="600.9" r="0.9" fill="#6a4a40"/><circle cx="296.1" cy="616.4" r="0.9" fill="#6a4a40"/><circle cx="271.7" cy="618.1" r="0.9" fill="#6a4a40"/><circle cx="297.8" cy="611.8" r="0.9" fill="#6a4a40"/><circle cx="289.0" cy="606.1" r="0.9" fill="#6a4a40"/><circle cx="276.7" cy="622.1" r="0.9" fill="#6a4a40"/><circle cx="299.0" cy="612.6" r="0.9" fill="#6a4a40"/><circle cx="281.5" cy="621.3" r="0.9" fill="#6a4a40"/><circle cx="279.2" cy="620.6" r="0.9" fill="#6a4a40"/><circle cx="291.1" cy="602.6" r="0.9" fill="#6a4a40"/><circle cx="271.4" cy="611.3" r="0.9" fill="#6a4a40"/><circle cx="292.9" cy="615.1" r="0.9" fill="#6a4a40"/><circle cx="292.8" cy="601.7" r="0.9" fill="#6a4a40"/><circle cx="289.2" cy="604.6" r="0.9" fill="#6a4a40"/><circle cx="285.2" cy="618.6" r="0.9" fill="#6a4a40"/><circle cx="272.1" cy="609.6" r="0.9" fill="#6a4a40"/><circle cx="271.1" cy="614.6" r="0.9" fill="#6a4a40"/><circle cx="273.4" cy="606.8" r="0.9" fill="#6a4a40"/><circle cx="285.9" cy="603.7" r="0.9" fill="#6a4a40"/><path d="M289,606 C283,602 275,606 276,612 C277,618 285,620 289,617" fill="none" stroke="#8c2c64" stroke-width="4" stroke-linecap="round"/>
<ellipse cx="352" cy="611" rx="16" ry="15" fill="#f6e4ec" stroke="#e0d8d8" stroke-width="0.6"/><circle cx="362.5" cy="605.5" r="0.9" fill="#3a2040"/><circle cx="361.4" cy="613.9" r="0.9" fill="#3a2040"/><circle cx="341.4" cy="608.9" r="0.9" fill="#3a2040"/><circle cx="342.8" cy="607.3" r="0.9" fill="#3a2040"/><circle cx="350.0" cy="623.8" r="0.9" fill="#3a2040"/><circle cx="348.6" cy="623.0" r="0.9" fill="#3a2040"/><circle cx="356.0" cy="600.1" r="0.9" fill="#3a2040"/><circle cx="337.8" cy="614.9" r="0.9" fill="#3a2040"/><circle cx="338.5" cy="615.6" r="0.9" fill="#3a2040"/><circle cx="362.3" cy="614.7" r="0.9" fill="#3a2040"/><circle cx="347.6" cy="606.0" r="0.9" fill="#3a2040"/><circle cx="356.7" cy="605.8" r="0.9" fill="#3a2040"/><circle cx="345.0" cy="606.5" r="0.9" fill="#3a2040"/><circle cx="362.7" cy="605.7" r="0.9" fill="#3a2040"/><circle cx="355.6" cy="600.7" r="0.9" fill="#3a2040"/><circle cx="346.0" cy="600.2" r="0.9" fill="#3a2040"/><circle cx="349.5" cy="619.0" r="0.9" fill="#3a2040"/><circle cx="356.3" cy="604.5" r="0.9" fill="#3a2040"/><circle cx="359.7" cy="606.9" r="0.9" fill="#3a2040"/><circle cx="358.1" cy="615.2" r="0.9" fill="#3a2040"/><circle cx="355.1" cy="597.4" r="0.9" fill="#3a2040"/><circle cx="341.0" cy="617.2" r="0.9" fill="#3a2040"/><circle cx="351.3" cy="624.6" r="0.9" fill="#3a2040"/><circle cx="348.7" cy="603.9" r="0.9" fill="#3a2040"/><circle cx="364.3" cy="615.3" r="0.9" fill="#3a2040"/><circle cx="365.6" cy="614.4" r="0.9" fill="#3a2040"/><circle cx="349.5" cy="619.2" r="0.9" fill="#3a2040"/><circle cx="343.3" cy="606.4" r="0.9" fill="#3a2040"/><circle cx="344.3" cy="608.1" r="0.9" fill="#3a2040"/><circle cx="360.5" cy="606.0" r="0.9" fill="#3a2040"/><circle cx="356.4" cy="604.5" r="0.9" fill="#3a2040"/><circle cx="356.6" cy="597.6" r="0.9" fill="#3a2040"/><circle cx="346.8" cy="615.0" r="0.9" fill="#3a2040"/><circle cx="342.7" cy="619.2" r="0.9" fill="#3a2040"/><path d="M358,605 C352,601 344,605 345,611 C346,617 354,619 358,616" fill="none" stroke="#8c2c64" stroke-width="4" stroke-linecap="round"/>
<ellipse cx="430" cy="607.6" rx="12" ry="11" fill="#f0d860"/><ellipse cx="430" cy="607.6" rx="6.6000000000000005" ry="6.050000000000001" fill="#802050"/>
<ellipse cx="211" cy="672" rx="15" ry="15" fill="#ecdcec"/><circle cx="212.8" cy="682.4" r="1.25" fill="#4a1848"/><circle cx="219.1" cy="677.4" r="1.25" fill="#4a1848"/><circle cx="209.7" cy="662.8" r="1.25" fill="#4a1848"/><circle cx="208.9" cy="667.7" r="1.25" fill="#4a1848"/><circle cx="213.4" cy="667.6" r="1.25" fill="#4a1848"/><circle cx="223.6" cy="665.4" r="1.25" fill="#4a1848"/><circle cx="220.6" cy="668.2" r="1.25" fill="#4a1848"/><circle cx="208.9" cy="680.1" r="1.25" fill="#4a1848"/><circle cx="211.0" cy="662.0" r="1.25" fill="#4a1848"/><circle cx="214.9" cy="670.1" r="1.25" fill="#4a1848"/><circle cx="197.8" cy="673.3" r="1.25" fill="#4a1848"/><circle cx="202.4" cy="666.0" r="1.25" fill="#4a1848"/><circle cx="215.5" cy="674.8" r="1.25" fill="#4a1848"/><circle cx="209.2" cy="685.3" r="1.25" fill="#4a1848"/><circle cx="214.8" cy="666.4" r="1.25" fill="#4a1848"/><circle cx="213.3" cy="670.8" r="1.25" fill="#4a1848"/><circle cx="199.6" cy="663.9" r="1.25" fill="#4a1848"/><circle cx="203.3" cy="683.5" r="1.25" fill="#4a1848"/><circle cx="209.2" cy="669.3" r="1.25" fill="#4a1848"/><circle cx="206.2" cy="680.3" r="1.25" fill="#4a1848"/><circle cx="211.2" cy="684.3" r="1.25" fill="#4a1848"/><circle cx="216.5" cy="683.4" r="1.25" fill="#4a1848"/><circle cx="209.9" cy="675.6" r="1.25" fill="#4a1848"/><circle cx="206.9" cy="670.4" r="1.25" fill="#4a1848"/><circle cx="199.0" cy="668.0" r="1.25" fill="#4a1848"/><circle cx="203.0" cy="666.5" r="1.25" fill="#4a1848"/><circle cx="221.0" cy="674.1" r="1.25" fill="#4a1848"/><circle cx="220.4" cy="678.6" r="1.25" fill="#4a1848"/><circle cx="218.3" cy="680.0" r="1.25" fill="#4a1848"/><circle cx="205.8" cy="679.0" r="1.25" fill="#4a1848"/><circle cx="208.0" cy="667.1" r="1.25" fill="#4a1848"/><circle cx="217.7" cy="684.1" r="1.25" fill="#4a1848"/><circle cx="204.6" cy="683.4" r="1.25" fill="#4a1848"/><circle cx="217.9" cy="665.0" r="1.25" fill="#4a1848"/><circle cx="213.6" cy="675.5" r="1.25" fill="#4a1848"/><circle cx="214.5" cy="668.6" r="1.25" fill="#4a1848"/><circle cx="200.6" cy="672.3" r="1.25" fill="#4a1848"/><circle cx="218.2" cy="678.6" r="1.25" fill="#4a1848"/><circle cx="216.4" cy="680.9" r="1.25" fill="#4a1848"/><circle cx="202.4" cy="671.6" r="1.25" fill="#4a1848"/><circle cx="213.9" cy="680.6" r="1.25" fill="#4a1848"/><circle cx="212.5" cy="676.9" r="1.25" fill="#4a1848"/><circle cx="211.8" cy="685.3" r="1.25" fill="#4a1848"/><circle cx="197.6" cy="671.8" r="1.25" fill="#4a1848"/><circle cx="224.8" cy="673.3" r="1.25" fill="#4a1848"/><circle cx="198.4" cy="672.9" r="1.25" fill="#4a1848"/><circle cx="200.3" cy="666.9" r="1.25" fill="#4a1848"/><circle cx="212.6" cy="684.2" r="1.25" fill="#4a1848"/><circle cx="215.2" cy="678.0" r="1.25" fill="#4a1848"/><circle cx="219.8" cy="673.7" r="1.25" fill="#4a1848"/><circle cx="203.4" cy="671.1" r="1.25" fill="#4a1848"/><circle cx="214.2" cy="669.4" r="1.25" fill="#4a1848"/><circle cx="204.9" cy="668.7" r="1.25" fill="#4a1848"/><circle cx="200.6" cy="664.9" r="1.25" fill="#4a1848"/><circle cx="210.1" cy="668.6" r="1.25" fill="#4a1848"/><circle cx="211.3" cy="683.0" r="1.25" fill="#4a1848"/><circle cx="213.9" cy="671.7" r="1.25" fill="#4a1848"/><circle cx="202.3" cy="664.0" r="1.25" fill="#4a1848"/><circle cx="214.3" cy="664.4" r="1.25" fill="#4a1848"/><circle cx="214.6" cy="663.0" r="1.25" fill="#4a1848"/>
<ellipse cx="282" cy="671" rx="17" ry="16" fill="#f8f0d0" stroke="#e0d8d8" stroke-width="0.6"/><circle cx="287.9" cy="667.9" r="0.9" fill="#6a4a40"/><circle cx="292.7" cy="667.0" r="0.9" fill="#6a4a40"/><circle cx="275.4" cy="675.1" r="0.9" fill="#6a4a40"/><circle cx="282.5" cy="684.4" r="0.9" fill="#6a4a40"/><circle cx="278.2" cy="663.6" r="0.9" fill="#6a4a40"/><circle cx="277.2" cy="677.7" r="0.9" fill="#6a4a40"/><circle cx="285.1" cy="679.5" r="0.9" fill="#6a4a40"/><circle cx="274.2" cy="684.1" r="0.9" fill="#6a4a40"/><circle cx="296.7" cy="670.7" r="0.9" fill="#6a4a40"/><circle cx="269.8" cy="672.5" r="0.9" fill="#6a4a40"/><circle cx="284.8" cy="656.7" r="0.9" fill="#6a4a40"/><circle cx="282.1" cy="658.3" r="0.9" fill="#6a4a40"/><circle cx="286.2" cy="682.9" r="0.9" fill="#6a4a40"/><circle cx="290.2" cy="659.6" r="0.9" fill="#6a4a40"/><circle cx="293.8" cy="678.3" r="0.9" fill="#6a4a40"/><circle cx="276.8" cy="677.8" r="0.9" fill="#6a4a40"/><circle cx="295.4" cy="668.2" r="0.9" fill="#6a4a40"/><circle cx="281.7" cy="663.0" r="0.9" fill="#6a4a40"/><circle cx="289.4" cy="658.0" r="0.9" fill="#6a4a40"/><circle cx="293.8" cy="663.4" r="0.9" fill="#6a4a40"/><circle cx="289.3" cy="658.9" r="0.9" fill="#6a4a40"/><circle cx="272.1" cy="665.1" r="0.9" fill="#6a4a40"/><circle cx="288.6" cy="658.7" r="0.9" fill="#6a4a40"/><circle cx="289.1" cy="663.9" r="0.9" fill="#6a4a40"/><circle cx="294.2" cy="668.1" r="0.9" fill="#6a4a40"/><circle cx="289.8" cy="668.4" r="0.9" fill="#6a4a40"/><circle cx="296.3" cy="668.2" r="0.9" fill="#6a4a40"/><circle cx="281.8" cy="685.1" r="0.9" fill="#6a4a40"/><circle cx="283.1" cy="679.7" r="0.9" fill="#6a4a40"/><circle cx="272.6" cy="673.4" r="0.9" fill="#6a4a40"/><circle cx="266.5" cy="671.7" r="0.9" fill="#6a4a40"/><circle cx="276.4" cy="658.9" r="0.9" fill="#6a4a40"/><circle cx="270.6" cy="679.6" r="0.9" fill="#6a4a40"/><circle cx="285.7" cy="658.5" r="0.9" fill="#6a4a40"/><circle cx="278" cy="668" r="3.6" fill="#8c2c64"/><circle cx="286" cy="670" r="3.2" fill="#8c2c64"/><circle cx="281" cy="676" r="3.2" fill="#8c2c64"/><path d="M278,668 L286,670 L281,676" stroke="#8c2c64" stroke-width="1.5" fill="none"/>
<ellipse cx="353" cy="671" rx="16" ry="15" fill="#f6e4ec" stroke="#e0d8d8" stroke-width="0.6"/><circle cx="366.1" cy="666.3" r="0.9" fill="#3a2040"/><circle cx="346.8" cy="674.9" r="0.9" fill="#3a2040"/><circle cx="344.9" cy="660.2" r="0.9" fill="#3a2040"/><circle cx="346.4" cy="680.8" r="0.9" fill="#3a2040"/><circle cx="360.1" cy="659.9" r="0.9" fill="#3a2040"/><circle cx="364.5" cy="671.3" r="0.9" fill="#3a2040"/><circle cx="360.7" cy="671.7" r="0.9" fill="#3a2040"/><circle cx="357.1" cy="661.5" r="0.9" fill="#3a2040"/><circle cx="344.1" cy="664.6" r="0.9" fill="#3a2040"/><circle cx="348.5" cy="678.2" r="0.9" fill="#3a2040"/><circle cx="344.4" cy="681.6" r="0.9" fill="#3a2040"/><circle cx="345.9" cy="664.8" r="0.9" fill="#3a2040"/><circle cx="361.1" cy="675.7" r="0.9" fill="#3a2040"/><circle cx="349.6" cy="661.1" r="0.9" fill="#3a2040"/><circle cx="345.6" cy="660.0" r="0.9" fill="#3a2040"/><circle cx="362.5" cy="679.4" r="0.9" fill="#3a2040"/><circle cx="366.5" cy="674.4" r="0.9" fill="#3a2040"/><circle cx="356.8" cy="679.2" r="0.9" fill="#3a2040"/><circle cx="363.0" cy="668.4" r="0.9" fill="#3a2040"/><circle cx="355.3" cy="684.4" r="0.9" fill="#3a2040"/><circle cx="341.8" cy="662.3" r="0.9" fill="#3a2040"/><circle cx="343.9" cy="677.7" r="0.9" fill="#3a2040"/><circle cx="364.2" cy="668.0" r="0.9" fill="#3a2040"/><circle cx="361.6" cy="670.4" r="0.9" fill="#3a2040"/><circle cx="357.0" cy="664.2" r="0.9" fill="#3a2040"/><circle cx="346.9" cy="670.0" r="0.9" fill="#3a2040"/><circle cx="359.7" cy="683.4" r="0.9" fill="#3a2040"/><circle cx="339.6" cy="674.7" r="0.9" fill="#3a2040"/><circle cx="353.0" cy="680.7" r="0.9" fill="#3a2040"/><circle cx="362.7" cy="677.7" r="0.9" fill="#3a2040"/><circle cx="360.6" cy="662.6" r="0.9" fill="#3a2040"/><circle cx="342.5" cy="680.7" r="0.9" fill="#3a2040"/><circle cx="363.1" cy="663.5" r="0.9" fill="#3a2040"/><circle cx="364.2" cy="676.4" r="0.9" fill="#3a2040"/><circle cx="349" cy="668" r="3.6" fill="#8c2c64"/><circle cx="357" cy="670" r="3.2" fill="#8c2c64"/><circle cx="352" cy="676" r="3.2" fill="#8c2c64"/><path d="M349,668 L357,670 L352,676" stroke="#8c2c64" stroke-width="1.5" fill="none"/>
<ellipse cx="430.6" cy="663" rx="10" ry="9" fill="#a8d8e8" stroke="#80b0c8" stroke-width="1"/>
<ellipse cx="431" cy="702" rx="11" ry="10.5" fill="#f8e030"/>
<ellipse cx="630.6" cy="681" rx="14" ry="13.5" fill="#d8d4e8" stroke="#8888a8" stroke-width="1.2"/><ellipse cx="630.6" cy="681" rx="9.799999999999999" ry="9.45" fill="#b02070"/>
<ellipse cx="703.75" cy="681.7" rx="14" ry="13" fill="#d8d4e8" stroke="#8888a8" stroke-width="1.2"/><ellipse cx="703.75" cy="681.7" rx="9.799999999999999" ry="9.1" fill="#b02070"/>
<ellipse cx="795" cy="681.7" rx="15" ry="13.5" fill="#d8d4e8" stroke="#8888a8" stroke-width="1.2"/><ellipse cx="795" cy="681.7" rx="10.5" ry="9.45" fill="#b02070"/>
<ellipse cx="874" cy="680" rx="18" ry="19" fill="#dce8f0" stroke="#a8c0d8" stroke-width="1"/><ellipse cx="872" cy="676" rx="10" ry="10" fill="#901848"/>
<path d="M126,666 C130,656 150,655 160,662 C168,668 168,684 164,690 C158,698 140,698 130,692 C124,686 123,674 126,666 Z" fill="#ecebf0" stroke="#d0d0dc" stroke-width="1"/>
<path d="M134,666 C140,661 150,662 152,668 C153,674 146,676 148,682 C152,686 158,680 160,684 C162,692 150,696 142,694 C134,690 130,682 131,674 C131,670 132,668 134,666 Z" fill="#b81c58"/>
<path d="M138,670 C141,668 144,671 142,675 C140,678 137,675 138,670 Z M144,686 C147,685 150,688 147,690 C144,691 142,688 144,686 Z" fill="#e0609a"/>
<circle cx="155.4" cy="679.5" r="0.7" fill="#a08098"/>
<circle cx="154.6" cy="675.9" r="0.7" fill="#a08098"/>
<circle cx="157.3" cy="672.5" r="0.7" fill="#a08098"/>
<circle cx="156.2" cy="676.1" r="0.7" fill="#a08098"/>
<circle cx="160.1" cy="674.0" r="0.7" fill="#a08098"/>
<circle cx="154.6" cy="679.7" r="0.7" fill="#a08098"/>
<circle cx="151.6" cy="678.0" r="0.7" fill="#a08098"/>
<circle cx="157.8" cy="674.7" r="0.7" fill="#a08098"/>
<path d="M482,474 C486,462 504,458 518,466 C532,474 542,490 540,504 C538,516 522,518 506,512 C490,506 478,490 482,474 Z" fill="#eef2f6" stroke="#b0c4d4" stroke-width="1.2"/>
<circle cx="507.1" cy="501.6" r="0.8" fill="#98b0c8"/>
<circle cx="531.9" cy="500.4" r="0.8" fill="#98b0c8"/>
<circle cx="524.0" cy="465.8" r="0.8" fill="#98b0c8"/>
<circle cx="500.2" cy="470.8" r="0.8" fill="#98b0c8"/>
<circle cx="535.4" cy="508.6" r="0.8" fill="#98b0c8"/>
<circle cx="490.1" cy="493.4" r="0.8" fill="#98b0c8"/>
<circle cx="514.3" cy="466.3" r="0.8" fill="#98b0c8"/>
<circle cx="504.0" cy="501.4" r="0.8" fill="#98b0c8"/>
<circle cx="517.9" cy="478.0" r="0.8" fill="#98b0c8"/>
<circle cx="524.7" cy="478.6" r="0.8" fill="#98b0c8"/>
<circle cx="512.5" cy="485.0" r="0.8" fill="#98b0c8"/>
<circle cx="536.8" cy="496.4" r="0.8" fill="#98b0c8"/>
<circle cx="527.1" cy="497.8" r="0.8" fill="#98b0c8"/>
<circle cx="503.3" cy="512.2" r="0.8" fill="#98b0c8"/>
<circle cx="521.7" cy="498.5" r="0.8" fill="#98b0c8"/>
<circle cx="497.5" cy="472.1" r="0.8" fill="#98b0c8"/>
<circle cx="514.2" cy="505.3" r="0.8" fill="#98b0c8"/>
<circle cx="526.4" cy="481.4" r="0.8" fill="#98b0c8"/>
<circle cx="489.8" cy="489.8" r="0.8" fill="#98b0c8"/>
<circle cx="531.1" cy="472.1" r="0.8" fill="#98b0c8"/>
<circle cx="523.3" cy="472.5" r="0.8" fill="#98b0c8"/>
<circle cx="499.5" cy="466.7" r="0.8" fill="#98b0c8"/>
<circle cx="498.7" cy="483.1" r="0.8" fill="#98b0c8"/>
<circle cx="536.1" cy="512.1" r="0.8" fill="#98b0c8"/>
<circle cx="492.5" cy="479.5" r="0.8" fill="#98b0c8"/>
<circle cx="534.8" cy="473.9" r="0.8" fill="#98b0c8"/>
<circle cx="500.0" cy="485.9" r="0.8" fill="#98b0c8"/>
<circle cx="488.1" cy="477.0" r="0.8" fill="#98b0c8"/>
<circle cx="504.1" cy="483.3" r="0.8" fill="#98b0c8"/>
<circle cx="536.0" cy="477.3" r="0.8" fill="#98b0c8"/>
<circle cx="493.4" cy="509.4" r="0.8" fill="#98b0c8"/>
<circle cx="507.2" cy="505.9" r="0.8" fill="#98b0c8"/>
<circle cx="517.7" cy="502.9" r="0.8" fill="#98b0c8"/>
<circle cx="499.6" cy="471.6" r="0.8" fill="#98b0c8"/>
<circle cx="524.4" cy="487.5" r="0.8" fill="#98b0c8"/>
<circle cx="513.3" cy="497.5" r="0.8" fill="#98b0c8"/>
<circle cx="524.1" cy="477.8" r="0.8" fill="#98b0c8"/>
<circle cx="502.3" cy="509.9" r="0.8" fill="#98b0c8"/>
<circle cx="511.6" cy="478.4" r="0.8" fill="#98b0c8"/>
<circle cx="517.3" cy="477.0" r="0.8" fill="#98b0c8"/>
<path d="M488,474 L494,467 L504,468 L510,472 L518,475 L525,482 L527,492 L522,501 L513,503 L505,500 L498,500 L492,493 L486,486 Z" fill="#8c1a4c" transform="translate(507,486) scale(0.88) translate(-507,-486)"/>
<path d="M496,478 C500,474 506,478 504,484 C502,488 496,486 496,478 Z M510,488 C514,486 518,490 514,494 C510,496 508,492 510,488 Z" fill="#c05080"/>
<path d="M474,572 C472,558 490,548 510,547 C526,547 536,556 538,572 C540,588 540,606 532,618 C524,628 500,630 486,620 C476,610 476,590 474,572 Z" fill="#f2d6e4" stroke="#e2bcd0" stroke-width="1"/>
<circle cx="522.3" cy="553.1" r="0.7" fill="#d8a0b8"/>
<circle cx="525.6" cy="593.1" r="0.7" fill="#d8a0b8"/>
<circle cx="497.2" cy="621.4" r="0.7" fill="#d8a0b8"/>
<circle cx="491.9" cy="568.5" r="0.7" fill="#d8a0b8"/>
<circle cx="480.2" cy="591.7" r="0.7" fill="#d8a0b8"/>
<circle cx="521.2" cy="601.5" r="0.7" fill="#d8a0b8"/>
<circle cx="500.8" cy="611.4" r="0.7" fill="#d8a0b8"/>
<circle cx="482.7" cy="573.3" r="0.7" fill="#d8a0b8"/>
<circle cx="514.7" cy="623.5" r="0.7" fill="#d8a0b8"/>
<circle cx="514.0" cy="602.6" r="0.7" fill="#d8a0b8"/>
<circle cx="522.5" cy="580.0" r="0.7" fill="#d8a0b8"/>
<circle cx="532.4" cy="606.4" r="0.7" fill="#d8a0b8"/>
<circle cx="496.5" cy="579.8" r="0.7" fill="#d8a0b8"/>
<circle cx="524.3" cy="576.6" r="0.7" fill="#d8a0b8"/>
<circle cx="487.1" cy="616.2" r="0.7" fill="#d8a0b8"/>
<circle cx="507.9" cy="589.6" r="0.7" fill="#d8a0b8"/>
<circle cx="516.2" cy="618.5" r="0.7" fill="#d8a0b8"/>
<circle cx="484.0" cy="575.7" r="0.7" fill="#d8a0b8"/>
<circle cx="480.0" cy="581.4" r="0.7" fill="#d8a0b8"/>
<circle cx="506.1" cy="614.7" r="0.7" fill="#d8a0b8"/>
<circle cx="516.1" cy="593.9" r="0.7" fill="#d8a0b8"/>
<circle cx="500.2" cy="593.6" r="0.7" fill="#d8a0b8"/>
<circle cx="492.4" cy="614.2" r="0.7" fill="#d8a0b8"/>
<circle cx="523.3" cy="613.7" r="0.7" fill="#d8a0b8"/>
<circle cx="485.1" cy="601.0" r="0.7" fill="#d8a0b8"/>
<circle cx="521.2" cy="588.0" r="0.7" fill="#d8a0b8"/>
<circle cx="529.9" cy="618.3" r="0.7" fill="#d8a0b8"/>
<circle cx="520.6" cy="612.4" r="0.7" fill="#d8a0b8"/>
<circle cx="514.9" cy="616.8" r="0.7" fill="#d8a0b8"/>
<circle cx="483.9" cy="603.5" r="0.7" fill="#d8a0b8"/>
<circle cx="518.2" cy="596.5" r="0.7" fill="#d8a0b8"/>
<circle cx="492.5" cy="555.1" r="0.7" fill="#d8a0b8"/>
<circle cx="512.2" cy="612.6" r="0.7" fill="#d8a0b8"/>
<circle cx="492.4" cy="566.2" r="0.7" fill="#d8a0b8"/>
<circle cx="489.4" cy="557.1" r="0.7" fill="#d8a0b8"/>
<circle cx="516.6" cy="624.1" r="0.7" fill="#d8a0b8"/>
<circle cx="524.1" cy="577.3" r="0.7" fill="#d8a0b8"/>
<circle cx="518.0" cy="555.5" r="0.7" fill="#d8a0b8"/>
<circle cx="526.3" cy="574.7" r="0.7" fill="#d8a0b8"/>
<circle cx="476.2" cy="597.8" r="0.7" fill="#d8a0b8"/>
<circle cx="484.3" cy="570.9" r="0.7" fill="#d8a0b8"/>
<circle cx="479.5" cy="583.9" r="0.7" fill="#d8a0b8"/>
<circle cx="509.3" cy="611.4" r="0.7" fill="#d8a0b8"/>
<circle cx="478.4" cy="612.9" r="0.7" fill="#d8a0b8"/>
<circle cx="482.6" cy="567.1" r="0.7" fill="#d8a0b8"/>
<circle cx="513.8" cy="575.8" r="0.7" fill="#d8a0b8"/>
<circle cx="495.9" cy="593.2" r="0.7" fill="#d8a0b8"/>
<circle cx="489.1" cy="610.3" r="0.7" fill="#d8a0b8"/>
<circle cx="488.5" cy="613.8" r="0.7" fill="#d8a0b8"/>
<circle cx="524.5" cy="590.8" r="0.7" fill="#d8a0b8"/>
<path d="M482,571 L488,564 L496,566 L502,560 L511,562 L518,560 L524,566 L522,573 L528,580 L526,588 L530,594 L524,600 L520,608 L512,612 L506,606 L500,610 L494,602 L496,594 L488,590 L490,582 L484,578 Z" fill="#82123f"/>
<path d="M494,572 C500,569 506,574 503,580 C500,584 495,580 494,572 Z" fill="#d47aa4"/>
<path d="M508,584 C512,580 518,584 515,590 C512,595 506,592 508,584 Z" fill="#c86090"/>
<path d="M502,596 C505,594 509,597 506,601 C503,603 500,600 502,596 Z" fill="#d07aa4"/>
<path d="M512,568 C515,566 519,569 516,573 C513,575 510,572 512,568 Z" fill="#b44a80"/>
<circle cx="493.1" cy="691.6" r="1.6" fill="#e8b8c8"/>
<circle cx="493.0" cy="681.2" r="1.6" fill="#e8b8c8"/>
<circle cx="507.3" cy="664.4" r="1.6" fill="#e8b8c8"/>
<circle cx="514.7" cy="689.5" r="1.6" fill="#e8b8c8"/>
<circle cx="513.1" cy="677.2" r="1.6" fill="#e8b8c8"/>
<circle cx="510.4" cy="684.4" r="1.6" fill="#e8b8c8"/>
<circle cx="500.1" cy="695.0" r="1.6" fill="#e8b8c8"/>
<circle cx="527.8" cy="692.6" r="1.6" fill="#e8b8c8"/>
<circle cx="526.6" cy="674.5" r="1.6" fill="#e8b8c8"/>
<circle cx="527.5" cy="664.7" r="1.6" fill="#e8b8c8"/>
<circle cx="509.2" cy="667.1" r="1.6" fill="#e8b8c8"/>
<circle cx="508.3" cy="687.9" r="1.6" fill="#e8b8c8"/>
<circle cx="517.5" cy="679.3" r="1.6" fill="#e8b8c8"/>
<circle cx="504.3" cy="669.2" r="1.6" fill="#e8b8c8"/>
</g>
<g font-family="Liberation Serif" font-weight="bold" fill="#111" stroke="#111" stroke-width="0.45" filter="url(#bl)">
<text x="366.5" y="126" font-size="13" textLength="168.5" lengthAdjust="spacingAndGlyphs">Стволовая клетка крови</text>
<text x="122" y="177" font-size="13" textLength="233.6" lengthAdjust="spacingAndGlyphs">Общая клетка - предшественница</text>
<text x="122" y="188" font-size="13" textLength="169.5" lengthAdjust="spacingAndGlyphs">миелопоэза(КОЕ-ГЭММ)</text>
<text x="146" y="215" font-size="13" textLength="86.0" lengthAdjust="spacingAndGlyphs">лейкопоэтин</text>
<text x="271" y="217.5" font-size="13" textLength="91.0" lengthAdjust="spacingAndGlyphs">эритропоэтин</text>
<text x="373" y="218.5" font-size="13" textLength="95.0" lengthAdjust="spacingAndGlyphs">тромбопоэтин</text>
<text x="180.6" y="263.5" font-size="13" textLength="59.4" lengthAdjust="spacingAndGlyphs">КОЕ-ГМ</text>
<text x="301" y="267" font-size="13" textLength="55.0" lengthAdjust="spacingAndGlyphs">КОЕ-ГиЭ</text>
<text x="426" y="263.5" font-size="13" textLength="78.0" lengthAdjust="spacingAndGlyphs">КОЕ-МГЦЭ</text>
<text x="764.7" y="175" font-size="13" textLength="107.8" lengthAdjust="spacingAndGlyphs">Общая клетка -</text>
<text x="757" y="185" font-size="13" textLength="215.5" lengthAdjust="spacingAndGlyphs">предшественница лимфопоэза ?</text>
<text x="632" y="264" font-size="13" textLength="104.5" lengthAdjust="spacingAndGlyphs">Т-лимфопоэтин</text>
<text x="754" y="264" font-size="13" textLength="106.0" lengthAdjust="spacingAndGlyphs">В-лимфопоэтин</text>
<text x="120.6" y="312.5" font-size="13" textLength="49.1" lengthAdjust="spacingAndGlyphs">КОЕ-М</text>
<text x="189" y="314.5" font-size="13" textLength="46.0" lengthAdjust="spacingAndGlyphs">КОЕ-Б</text>
<text x="256" y="313.5" font-size="13" textLength="53.0" lengthAdjust="spacingAndGlyphs">КОЕ-Эо</text>
<text x="328" y="313.5" font-size="13" textLength="54.0" lengthAdjust="spacingAndGlyphs">КОЕ-Гн</text>
<text x="401" y="313.5" font-size="13" textLength="45.0" lengthAdjust="spacingAndGlyphs">КОЕ-Э</text>
<text x="468" y="316.5" font-size="13" textLength="70.0" lengthAdjust="spacingAndGlyphs">КОЕ-МГЦ</text>
<text x="590" y="302" font-size="13" textLength="171.5" lengthAdjust="spacingAndGlyphs">клетка предшественница</text>
<text x="641.6" y="315" font-size="13" textLength="96.4" lengthAdjust="spacingAndGlyphs">Т-лимфоцитов</text>
<text x="769" y="303" font-size="13" textLength="174.0" lengthAdjust="spacingAndGlyphs">клетка предшественница</text>
<text x="804" y="315.5" font-size="13" textLength="96.6" lengthAdjust="spacingAndGlyphs">В-лимфоцитов</text>
<text x="119.7" y="385.5" font-size="13" textLength="73.3" lengthAdjust="spacingAndGlyphs">монобласт</text>
<text x="240" y="387" font-size="13" textLength="92.0" lengthAdjust="spacingAndGlyphs">миелобласты</text>
<text x="169.7" y="403" font-size="13" textLength="90.3" lengthAdjust="spacingAndGlyphs">базофильный</text>
<text x="263" y="393.5" font-size="13" textLength="46.0" lengthAdjust="spacingAndGlyphs">эозино-</text>
<text x="266.5" y="401" font-size="13" textLength="62.5" lengthAdjust="spacingAndGlyphs">фильный</text>
<text x="343" y="390.5" font-size="13" textLength="47.0" lengthAdjust="spacingAndGlyphs">нейтро-</text>
<text x="333" y="399.5" font-size="13" textLength="65.0" lengthAdjust="spacingAndGlyphs">фильный</text>
<text x="398" y="384.5" font-size="13" textLength="84.0" lengthAdjust="spacingAndGlyphs">эритробласт</text>
<text x="485" y="387" font-size="13" textLength="78.0" lengthAdjust="spacingAndGlyphs">мегакарио-</text>
<text x="496" y="396.5" font-size="13" textLength="41.0" lengthAdjust="spacingAndGlyphs">бласт</text>
<text x="595" y="389" font-size="13" textLength="67.0" lengthAdjust="spacingAndGlyphs">Т-иммуно-</text>
<text x="618" y="398.5" font-size="13" textLength="31.0" lengthAdjust="spacingAndGlyphs">бласт</text>
<text x="690.6" y="391" font-size="13" textLength="61.4" lengthAdjust="spacingAndGlyphs">Т-лимфо-</text>
<text x="702" y="401" font-size="13" textLength="39.0" lengthAdjust="spacingAndGlyphs">бласт</text>
<text x="771" y="391" font-size="13" textLength="65.5" lengthAdjust="spacingAndGlyphs">В-лимфо-</text>
<text x="783.4" y="401" font-size="13" textLength="39.1" lengthAdjust="spacingAndGlyphs">бласт</text>
<text x="847.5" y="388" font-size="13" textLength="106.2" lengthAdjust="spacingAndGlyphs">В-иммунобласт</text>
<text x="858" y="398.5" font-size="13" textLength="86.0" lengthAdjust="spacingAndGlyphs">плазмобласт</text>
<text x="118" y="479" font-size="13" textLength="81.0" lengthAdjust="spacingAndGlyphs">промоноцит</text>
<text x="236" y="474.5" font-size="13" textLength="102.0" lengthAdjust="spacingAndGlyphs">промиелоциты</text>
<text x="395" y="468.5" font-size="13" textLength="73.0" lengthAdjust="spacingAndGlyphs">проэритро-</text>
<text x="416.5" y="477.5" font-size="13" textLength="34.5" lengthAdjust="spacingAndGlyphs">бласт</text>
<text x="386" y="526.5" font-size="13" textLength="91.5" lengthAdjust="spacingAndGlyphs">базофильный</text>
<text x="393" y="537.5" font-size="13" textLength="83.0" lengthAdjust="spacingAndGlyphs">эритробласт</text>
<text x="485" y="526.5" font-size="13" textLength="78.0" lengthAdjust="spacingAndGlyphs">промегака-</text>
<text x="499" y="535" font-size="13" textLength="49.0" lengthAdjust="spacingAndGlyphs">риоцит</text>
<text x="247" y="531.5" font-size="13" textLength="79.0" lengthAdjust="spacingAndGlyphs">миелоциты</text>
<text x="655" y="537.5" font-size="13" textLength="109.7" lengthAdjust="spacingAndGlyphs">Т-пролимфоцит</text>
<text x="843" y="538.5" font-size="13" textLength="95.0" lengthAdjust="spacingAndGlyphs">проплазмоцит</text>
<text x="725.6" y="570" font-size="13" textLength="107.8" lengthAdjust="spacingAndGlyphs">В-пролимфоцит</text>
<text x="234" y="588.5" font-size="13" textLength="114.0" lengthAdjust="spacingAndGlyphs">метамиелоциты</text>
<text x="390" y="577.5" font-size="13" textLength="76.6" lengthAdjust="spacingAndGlyphs">полихрома-</text>
<text x="396" y="587.5" font-size="13" textLength="72.0" lengthAdjust="spacingAndGlyphs">тофильный</text>
<text x="387" y="597.5" font-size="13" textLength="82.7" lengthAdjust="spacingAndGlyphs">эритробласт</text>
<text x="227" y="637.5" font-size="13" textLength="114.5" lengthAdjust="spacingAndGlyphs">палочкоядерные</text>
<text x="386" y="628.5" font-size="13" textLength="93.0" lengthAdjust="spacingAndGlyphs">оксифильный</text>
<text x="389" y="639.5" font-size="13" textLength="85.0" lengthAdjust="spacingAndGlyphs">эритробласт</text>
<text x="480.6" y="641.5" font-size="13" textLength="96.9" lengthAdjust="spacingAndGlyphs">мегакариоцит</text>
<text x="122" y="707.5" font-size="13" textLength="57.0" lengthAdjust="spacingAndGlyphs">моноцит</text>
<text x="227" y="693.5" font-size="13" textLength="119.0" lengthAdjust="spacingAndGlyphs">сегментоядерные</text>
<text x="391.5" y="681.5" font-size="13" textLength="87.5" lengthAdjust="spacingAndGlyphs">ретикулоцит</text>
<text x="398" y="720" font-size="13" textLength="68.5" lengthAdjust="spacingAndGlyphs">эритроцит</text>
<text x="477.5" y="714.5" font-size="13" textLength="87.5" lengthAdjust="spacingAndGlyphs">тромбоциты,</text>
<text x="487" y="723.5" font-size="13" textLength="68.6" lengthAdjust="spacingAndGlyphs">кровяные</text>
<text x="483" y="732" font-size="13" textLength="77.0" lengthAdjust="spacingAndGlyphs" clip-path="url(#clipb)">пластинки</text>
<text x="571" y="703.5" font-size="13" textLength="112.4" lengthAdjust="spacingAndGlyphs">активированный</text>
<text x="584" y="715" font-size="13" textLength="82.0" lengthAdjust="spacingAndGlyphs">Т-лимфоцит</text>
<text x="693" y="706.5" font-size="13" textLength="43.6" lengthAdjust="spacingAndGlyphs">Т-лим-</text>
<text x="693" y="717.5" font-size="13" textLength="40.0" lengthAdjust="spacingAndGlyphs">фоцит</text>
<text x="760" y="705" font-size="13" textLength="84.0" lengthAdjust="spacingAndGlyphs">В-лимфоцит</text>
<text x="849" y="710.5" font-size="13" textLength="73.5" lengthAdjust="spacingAndGlyphs">плазмоцит</text>
<text x="76" y="136" font-size="23" textLength="12.0" lengthAdjust="spacingAndGlyphs">I</text>
<text x="71" y="220" font-size="23" textLength="19.0" lengthAdjust="spacingAndGlyphs">II</text>
<text x="65" y="303" font-size="23" textLength="26.6" lengthAdjust="spacingAndGlyphs">III</text>
<text x="64.4" y="376" font-size="23" textLength="28.1" lengthAdjust="spacingAndGlyphs">IV</text>
<text x="68.75" y="526" font-size="23" textLength="18.2" lengthAdjust="spacingAndGlyphs">V</text>
<text x="68" y="692.6" font-size="23" textLength="28.0" lengthAdjust="spacingAndGlyphs">IV</text>
</g>
</svg></body></html>
